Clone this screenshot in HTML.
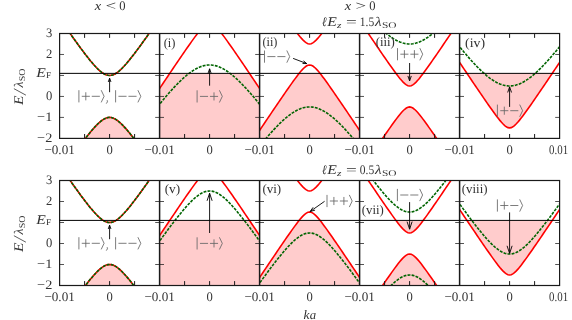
<!DOCTYPE html>
<html><head><meta charset="utf-8"><title>Band structure</title>
<style>html,body{margin:0;padding:0;background:#fff;overflow:hidden}svg{display:block}text{font-family:"Liberation Serif",serif;-webkit-font-smoothing:antialiased;text-rendering:geometricPrecision}</style>
</head><body>
<svg width="572" height="320" viewBox="0 0 572 320">
<rect width="572" height="320" fill="#fff"/>
<defs><clipPath id="c00"><rect x="59.60" y="33.50" width="100.00" height="104.90"/></clipPath>
<clipPath id="c01"><rect x="159.60" y="33.50" width="100.00" height="104.90"/></clipPath>
<clipPath id="c02"><rect x="259.60" y="33.50" width="100.00" height="104.90"/></clipPath>
<clipPath id="c03"><rect x="359.60" y="33.50" width="100.00" height="104.90"/></clipPath>
<clipPath id="c04"><rect x="459.60" y="33.50" width="100.00" height="104.90"/></clipPath>
<clipPath id="c10"><rect x="59.60" y="180.50" width="100.00" height="105.00"/></clipPath>
<clipPath id="c11"><rect x="159.60" y="180.50" width="100.00" height="105.00"/></clipPath>
<clipPath id="c12"><rect x="259.60" y="180.50" width="100.00" height="105.00"/></clipPath>
<clipPath id="c13"><rect x="359.60" y="180.50" width="100.00" height="105.00"/></clipPath>
<clipPath id="c14"><rect x="459.60" y="180.50" width="100.00" height="105.00"/></clipPath><filter id="idf" x="0" y="0" width="572" height="320" filterUnits="userSpaceOnUse" color-interpolation-filters="sRGB"><feOffset dx="0" dy="0"/></filter></defs>
<g clip-path="url(#c00)">
<path d="M59.60 174.52 L61.16 172.26 L62.73 170.01 L64.29 167.76 L65.85 165.51 L67.41 163.28 L68.97 161.05 L70.54 158.83 L72.10 156.63 L73.66 154.43 L75.22 152.24 L76.79 150.07 L78.35 147.92 L79.91 145.78 L81.47 143.66 L83.04 141.57 L84.60 139.50 L86.16 137.47 L87.72 135.47 L89.29 133.50 L90.85 131.59 L92.41 129.74 L93.97 127.95 L95.54 126.23 L97.10 124.61 L98.66 123.10 L100.22 121.72 L101.79 120.49 L103.35 119.43 L104.91 118.57 L106.47 117.94 L108.04 117.55 L109.60 117.42 L111.16 117.55 L112.72 117.94 L114.29 118.57 L115.85 119.43 L117.41 120.49 L118.97 121.72 L120.54 123.10 L122.10 124.61 L123.66 126.23 L125.22 127.95 L126.79 129.74 L128.35 131.59 L129.91 133.50 L131.47 135.47 L133.04 137.47 L134.60 139.50 L136.16 141.57 L137.72 143.66 L139.29 145.78 L140.85 147.92 L142.41 150.07 L143.97 152.24 L145.54 154.43 L147.10 156.63 L148.66 158.83 L150.22 161.05 L151.79 163.28 L153.35 165.51 L154.91 167.76 L156.47 170.01 L158.04 172.26 L159.60 174.52 L159.60 143.40 L59.60 143.40 Z" fill="#ffcccc"/>
<path d="M59.60 73.36 L61.16 73.36 L62.73 73.36 L64.29 73.36 L65.85 73.36 L67.41 73.36 L68.97 73.36 L70.54 73.36 L72.10 73.36 L73.66 73.36 L75.22 73.36 L76.79 73.36 L78.35 73.36 L79.91 73.36 L81.47 73.36 L83.04 73.36 L84.60 73.36 L86.16 73.36 L87.72 73.36 L89.29 73.36 L90.85 73.36 L92.41 73.36 L93.97 73.36 L95.54 73.36 L97.10 73.36 L98.66 73.36 L100.22 73.36 L101.79 73.36 L103.35 73.45 L104.91 74.31 L106.47 74.94 L108.04 75.33 L109.60 75.46 L111.16 75.33 L112.72 74.94 L114.29 74.31 L115.85 73.45 L117.41 73.36 L118.97 73.36 L120.54 73.36 L122.10 73.36 L123.66 73.36 L125.22 73.36 L126.79 73.36 L128.35 73.36 L129.91 73.36 L131.47 73.36 L133.04 73.36 L134.60 73.36 L136.16 73.36 L137.72 73.36 L139.29 73.36 L140.85 73.36 L142.41 73.36 L143.97 73.36 L145.54 73.36 L147.10 73.36 L148.66 73.36 L150.22 73.36 L151.79 73.36 L153.35 73.36 L154.91 73.36 L156.47 73.36 L158.04 73.36 L159.60 73.36 L159.60 73.36 L59.60 73.36 Z" fill="#ffcccc"/>
<path d="M57.60 15.45 L59.23 17.81 L60.85 20.16 L62.48 22.51 L64.10 24.85 L65.72 27.19 L67.35 29.51 L68.97 31.83 L70.60 34.14 L72.22 36.43 L73.85 38.71 L75.47 40.99 L77.10 43.24 L78.72 45.48 L80.35 47.69 L81.97 49.89 L83.60 52.06 L85.22 54.20 L86.85 56.30 L88.47 58.36 L90.10 60.38 L91.72 62.33 L93.35 64.23 L94.97 66.04 L96.60 67.76 L98.22 69.37 L99.85 70.84 L101.47 72.16 L103.10 73.29 L104.72 74.22 L106.35 74.90 L107.97 75.32 L109.60 75.46 L111.22 75.32 L112.85 74.90 L114.47 74.22 L116.10 73.29 L117.72 72.16 L119.35 70.84 L120.97 69.37 L122.60 67.76 L124.22 66.04 L125.85 64.23 L127.47 62.33 L129.10 60.38 L130.72 58.36 L132.35 56.30 L133.97 54.20 L135.60 52.06 L137.22 49.89 L138.85 47.69 L140.47 45.48 L142.10 43.24 L143.72 40.99 L145.35 38.71 L146.97 36.43 L148.60 34.14 L150.22 31.83 L151.85 29.51 L153.47 27.19 L155.10 24.85 L156.72 22.51 L158.35 20.16 L159.97 17.81 L161.60 15.45" fill="none" stroke="#ff0000" stroke-width="1.6"/>
<path d="M57.60 177.43 L59.23 175.07 L60.85 172.72 L62.48 170.37 L64.10 168.03 L65.72 165.69 L67.35 163.37 L68.97 161.05 L70.60 158.74 L72.22 156.45 L73.85 154.17 L75.47 151.89 L77.10 149.64 L78.72 147.40 L80.35 145.19 L81.97 142.99 L83.60 140.82 L85.22 138.68 L86.85 136.58 L88.47 134.52 L90.10 132.50 L91.72 130.55 L93.35 128.65 L94.97 126.84 L96.60 125.12 L98.22 123.51 L99.85 122.04 L101.47 120.72 L103.10 119.59 L104.72 118.66 L106.35 117.98 L107.97 117.56 L109.60 117.42 L111.22 117.56 L112.85 117.98 L114.47 118.66 L116.10 119.59 L117.72 120.72 L119.35 122.04 L120.97 123.51 L122.60 125.12 L124.22 126.84 L125.85 128.65 L127.47 130.55 L129.10 132.50 L130.72 134.52 L132.35 136.58 L133.97 138.68 L135.60 140.82 L137.22 142.99 L138.85 145.19 L140.47 147.40 L142.10 149.64 L143.72 151.89 L145.35 154.17 L146.97 156.45 L148.60 158.74 L150.22 161.05 L151.85 163.37 L153.47 165.69 L155.10 168.03 L156.72 170.37 L158.35 172.72 L159.97 175.07 L161.60 177.43" fill="none" stroke="#ff0000" stroke-width="1.6"/>
<path d="M57.60 15.45 L59.23 17.81 L60.85 20.16 L62.48 22.51 L64.10 24.85 L65.72 27.19 L67.35 29.51 L68.97 31.83 L70.60 34.14 L72.22 36.43 L73.85 38.71 L75.47 40.99 L77.10 43.24 L78.72 45.48 L80.35 47.69 L81.97 49.89 L83.60 52.06 L85.22 54.20 L86.85 56.30 L88.47 58.36 L90.10 60.38 L91.72 62.33 L93.35 64.23 L94.97 66.04 L96.60 67.76 L98.22 69.37 L99.85 70.84 L101.47 72.16 L103.10 73.29 L104.72 74.22 L106.35 74.90 L107.97 75.32 L109.60 75.46 L111.22 75.32 L112.85 74.90 L114.47 74.22 L116.10 73.29 L117.72 72.16 L119.35 70.84 L120.97 69.37 L122.60 67.76 L124.22 66.04 L125.85 64.23 L127.47 62.33 L129.10 60.38 L130.72 58.36 L132.35 56.30 L133.97 54.20 L135.60 52.06 L137.22 49.89 L138.85 47.69 L140.47 45.48 L142.10 43.24 L143.72 40.99 L145.35 38.71 L146.97 36.43 L148.60 34.14 L150.22 31.83 L151.85 29.51 L153.47 27.19 L155.10 24.85 L156.72 22.51 L158.35 20.16 L159.97 17.81 L161.60 15.45" fill="none" stroke="#006400" stroke-width="1.6" stroke-dasharray="2.9 1.2"/>
<path d="M57.60 177.43 L59.23 175.07 L60.85 172.72 L62.48 170.37 L64.10 168.03 L65.72 165.69 L67.35 163.37 L68.97 161.05 L70.60 158.74 L72.22 156.45 L73.85 154.17 L75.47 151.89 L77.10 149.64 L78.72 147.40 L80.35 145.19 L81.97 142.99 L83.60 140.82 L85.22 138.68 L86.85 136.58 L88.47 134.52 L90.10 132.50 L91.72 130.55 L93.35 128.65 L94.97 126.84 L96.60 125.12 L98.22 123.51 L99.85 122.04 L101.47 120.72 L103.10 119.59 L104.72 118.66 L106.35 117.98 L107.97 117.56 L109.60 117.42 L111.22 117.56 L112.85 117.98 L114.47 118.66 L116.10 119.59 L117.72 120.72 L119.35 122.04 L120.97 123.51 L122.60 125.12 L124.22 126.84 L125.85 128.65 L127.47 130.55 L129.10 132.50 L130.72 134.52 L132.35 136.58 L133.97 138.68 L135.60 140.82 L137.22 142.99 L138.85 145.19 L140.47 147.40 L142.10 149.64 L143.72 151.89 L145.35 154.17 L146.97 156.45 L148.60 158.74 L150.22 161.05 L151.85 163.37 L153.47 165.69 L155.10 168.03 L156.72 170.37 L158.35 172.72 L159.97 175.07 L161.60 177.43" fill="none" stroke="#006400" stroke-width="1.6" stroke-dasharray="2.9 1.2"/>
</g>
<g clip-path="url(#c01)">
<path d="M159.60 88.46 L161.16 86.13 L162.72 83.81 L164.29 81.48 L165.85 79.16 L167.41 76.84 L168.97 74.52 L170.54 73.36 L172.10 73.36 L173.66 73.36 L175.22 73.36 L176.79 73.36 L178.35 73.36 L179.91 73.36 L181.47 73.36 L183.04 73.36 L184.60 73.36 L186.16 73.36 L187.72 73.36 L189.29 73.36 L190.85 73.36 L192.41 73.36 L193.97 73.36 L195.54 73.36 L197.10 73.36 L198.66 73.36 L200.23 73.36 L201.79 73.36 L203.35 73.36 L204.91 73.36 L206.48 73.36 L208.04 73.36 L209.60 73.36 L211.16 73.36 L212.73 73.36 L214.29 73.36 L215.85 73.36 L217.41 73.36 L218.98 73.36 L220.54 73.36 L222.10 73.36 L223.66 73.36 L225.23 73.36 L226.79 73.36 L228.35 73.36 L229.91 73.36 L231.48 73.36 L233.04 73.36 L234.60 73.36 L236.16 73.36 L237.73 73.36 L239.29 73.36 L240.85 73.36 L242.41 73.36 L243.98 73.36 L245.54 73.36 L247.10 73.36 L248.66 73.36 L250.23 74.52 L251.79 76.84 L253.35 79.16 L254.91 81.48 L256.48 83.81 L258.04 86.13 L259.60 88.46 L259.60 143.40 L159.60 143.40 Z" fill="#ffcccc"/>
<path d="M159.60 73.36 L161.16 73.36 L162.72 73.36 L164.29 73.36 L165.85 73.36 L167.41 73.36 L168.97 73.36 L170.54 73.36 L172.10 73.36 L173.66 73.36 L175.22 73.36 L176.79 73.36 L178.35 73.36 L179.91 73.36 L181.47 73.36 L183.04 73.36 L184.60 73.36 L186.16 73.36 L187.72 73.36 L189.29 73.36 L190.85 73.36 L192.41 73.36 L193.97 73.36 L195.54 73.36 L197.10 73.36 L198.66 73.36 L200.23 73.36 L201.79 73.36 L203.35 73.36 L204.91 73.36 L206.48 73.36 L208.04 73.36 L209.60 73.36 L211.16 73.36 L212.73 73.36 L214.29 73.36 L215.85 73.36 L217.41 73.36 L218.98 73.36 L220.54 73.36 L222.10 73.36 L223.66 73.36 L225.23 73.36 L226.79 73.36 L228.35 73.36 L229.91 73.36 L231.48 73.36 L233.04 73.36 L234.60 73.36 L236.16 73.36 L237.73 73.36 L239.29 73.36 L240.85 73.36 L242.41 73.36 L243.98 73.36 L245.54 73.36 L247.10 73.36 L248.66 73.36 L250.23 73.36 L251.79 73.36 L253.35 73.36 L254.91 73.36 L256.48 73.36 L258.04 73.36 L259.60 73.36 L259.60 73.36 L159.60 73.36 Z" fill="#ffcccc"/>
<path d="M157.60 -66.40 L159.22 -63.98 L160.85 -61.56 L162.47 -59.14 L164.10 -56.72 L165.72 -54.31 L167.35 -51.90 L168.97 -49.48 L170.60 -47.08 L172.22 -44.67 L173.85 -42.27 L175.47 -39.87 L177.10 -37.48 L178.72 -35.09 L180.35 -32.71 L181.97 -30.34 L183.60 -27.97 L185.22 -25.62 L186.85 -23.27 L188.47 -20.94 L190.10 -18.63 L191.72 -16.34 L193.35 -14.08 L194.97 -11.85 L196.60 -9.67 L198.23 -7.55 L199.85 -5.51 L201.48 -3.59 L203.10 -1.82 L204.73 -0.28 L206.35 0.95 L207.98 1.75 L209.60 2.03 L211.23 1.75 L212.85 0.95 L214.48 -0.28 L216.10 -1.82 L217.73 -3.59 L219.35 -5.51 L220.98 -7.55 L222.60 -9.67 L224.23 -11.85 L225.85 -14.08 L227.48 -16.34 L229.10 -18.63 L230.73 -20.94 L232.35 -23.27 L233.98 -25.62 L235.60 -27.97 L237.23 -30.34 L238.85 -32.71 L240.48 -35.09 L242.10 -37.48 L243.73 -39.87 L245.35 -42.27 L246.98 -44.67 L248.60 -47.08 L250.23 -49.48 L251.85 -51.90 L253.48 -54.31 L255.10 -56.72 L256.73 -59.14 L258.35 -61.56 L259.98 -63.98 L261.60 -66.40" fill="none" stroke="#ff0000" stroke-width="1.6"/>
<path d="M157.60 91.44 L159.22 89.02 L160.85 86.60 L162.47 84.18 L164.10 81.76 L165.72 79.35 L167.35 76.94 L168.97 74.52 L170.60 72.12 L172.22 69.71 L173.85 67.31 L175.47 64.91 L177.10 62.52 L178.72 60.13 L180.35 57.75 L181.97 55.38 L183.60 53.01 L185.22 50.66 L186.85 48.31 L188.47 45.98 L190.10 43.67 L191.72 41.38 L193.35 39.12 L194.97 36.89 L196.60 34.71 L198.23 32.59 L199.85 30.55 L201.48 28.63 L203.10 26.86 L204.73 25.32 L206.35 24.09 L207.98 23.29 L209.60 23.01 L211.23 23.29 L212.85 24.09 L214.48 25.32 L216.10 26.86 L217.73 28.63 L219.35 30.55 L220.98 32.59 L222.60 34.71 L224.23 36.89 L225.85 39.12 L227.48 41.38 L229.10 43.67 L230.73 45.98 L232.35 48.31 L233.98 50.66 L235.60 53.01 L237.23 55.38 L238.85 57.75 L240.48 60.13 L242.10 62.52 L243.73 64.91 L245.35 67.31 L246.98 69.71 L248.60 72.12 L250.23 74.52 L251.85 76.94 L253.48 79.35 L255.10 81.76 L256.73 84.18 L258.35 86.60 L259.98 89.02 L261.60 91.44" fill="none" stroke="#ff0000" stroke-width="1.6"/>
<path d="M157.60 -81.66 L159.22 -79.64 L160.85 -77.64 L162.47 -75.66 L164.10 -73.71 L165.72 -71.78 L167.35 -69.88 L168.97 -68.01 L170.60 -66.17 L172.22 -64.37 L173.85 -62.60 L175.47 -60.87 L177.10 -59.18 L178.72 -57.54 L180.35 -55.94 L181.97 -54.40 L183.60 -52.91 L185.22 -51.48 L186.85 -50.11 L188.47 -48.81 L190.10 -47.58 L191.72 -46.42 L193.35 -45.35 L194.97 -44.36 L196.60 -43.46 L198.23 -42.65 L199.85 -41.94 L201.48 -41.34 L203.10 -40.83 L204.73 -40.44 L206.35 -40.16 L207.98 -39.99 L209.60 -39.93 L211.23 -39.99 L212.85 -40.16 L214.48 -40.44 L216.10 -40.83 L217.73 -41.34 L219.35 -41.94 L220.98 -42.65 L222.60 -43.46 L224.23 -44.36 L225.85 -45.35 L227.48 -46.42 L229.10 -47.58 L230.73 -48.81 L232.35 -50.11 L233.98 -51.48 L235.60 -52.91 L237.23 -54.40 L238.85 -55.94 L240.48 -57.54 L242.10 -59.18 L243.73 -60.87 L245.35 -62.60 L246.98 -64.37 L248.60 -66.17 L250.23 -68.01 L251.85 -69.88 L253.48 -71.78 L255.10 -73.71 L256.73 -75.66 L258.35 -77.64 L259.98 -79.64 L261.60 -81.66" fill="none" stroke="#006400" stroke-width="1.6" stroke-dasharray="2.9 1.2"/>
<path d="M157.60 106.70 L159.22 104.68 L160.85 102.68 L162.47 100.70 L164.10 98.75 L165.72 96.82 L167.35 94.92 L168.97 93.05 L170.60 91.21 L172.22 89.41 L173.85 87.64 L175.47 85.91 L177.10 84.22 L178.72 82.58 L180.35 80.98 L181.97 79.44 L183.60 77.95 L185.22 76.52 L186.85 75.15 L188.47 73.85 L190.10 72.62 L191.72 71.46 L193.35 70.39 L194.97 69.40 L196.60 68.50 L198.23 67.69 L199.85 66.98 L201.48 66.38 L203.10 65.87 L204.73 65.48 L206.35 65.20 L207.98 65.03 L209.60 64.97 L211.23 65.03 L212.85 65.20 L214.48 65.48 L216.10 65.87 L217.73 66.38 L219.35 66.98 L220.98 67.69 L222.60 68.50 L224.23 69.40 L225.85 70.39 L227.48 71.46 L229.10 72.62 L230.73 73.85 L232.35 75.15 L233.98 76.52 L235.60 77.95 L237.23 79.44 L238.85 80.98 L240.48 82.58 L242.10 84.22 L243.73 85.91 L245.35 87.64 L246.98 89.41 L248.60 91.21 L250.23 93.05 L251.85 94.92 L253.48 96.82 L255.10 98.75 L256.73 100.70 L258.35 102.68 L259.98 104.68 L261.60 106.70" fill="none" stroke="#006400" stroke-width="1.6" stroke-dasharray="2.9 1.2"/>
</g>
<g clip-path="url(#c02)">
<path d="M259.60 130.42 L261.16 128.09 L262.73 125.77 L264.29 123.44 L265.85 121.12 L267.41 118.80 L268.98 116.48 L270.54 114.17 L272.10 111.86 L273.66 109.55 L275.23 107.24 L276.79 104.94 L278.35 102.64 L279.91 100.35 L281.48 98.07 L283.04 95.79 L284.60 93.52 L286.16 91.26 L287.73 89.02 L289.29 86.79 L290.85 84.57 L292.41 82.38 L293.98 80.22 L295.54 78.09 L297.10 76.01 L298.66 73.99 L300.23 73.36 L301.79 73.36 L303.35 73.36 L304.91 73.36 L306.48 73.36 L308.04 73.36 L309.60 73.36 L311.16 73.36 L312.73 73.36 L314.29 73.36 L315.85 73.36 L317.41 73.36 L318.98 73.36 L320.54 73.99 L322.10 76.01 L323.66 78.09 L325.23 80.22 L326.79 82.38 L328.35 84.57 L329.91 86.79 L331.48 89.02 L333.04 91.26 L334.60 93.52 L336.16 95.79 L337.73 98.07 L339.29 100.35 L340.85 102.64 L342.41 104.94 L343.98 107.24 L345.54 109.55 L347.10 111.86 L348.66 114.17 L350.23 116.48 L351.79 118.80 L353.35 121.12 L354.91 123.44 L356.48 125.77 L358.04 128.09 L359.60 130.42 L359.60 143.40 L259.60 143.40 Z" fill="#ffcccc"/>
<path d="M259.60 73.36 L261.16 73.36 L262.73 73.36 L264.29 73.36 L265.85 73.36 L267.41 73.36 L268.98 73.36 L270.54 73.36 L272.10 73.36 L273.66 73.36 L275.23 73.36 L276.79 73.36 L278.35 73.36 L279.91 73.36 L281.48 73.36 L283.04 73.36 L284.60 73.36 L286.16 73.36 L287.73 73.36 L289.29 73.36 L290.85 73.36 L292.41 73.36 L293.98 73.36 L295.54 73.36 L297.10 73.36 L298.66 73.36 L300.23 73.36 L301.79 73.36 L303.35 73.36 L304.91 73.36 L306.48 73.36 L308.04 73.36 L309.60 73.36 L311.16 73.36 L312.73 73.36 L314.29 73.36 L315.85 73.36 L317.41 73.36 L318.98 73.36 L320.54 73.36 L322.10 73.36 L323.66 73.36 L325.23 73.36 L326.79 73.36 L328.35 73.36 L329.91 73.36 L331.48 73.36 L333.04 73.36 L334.60 73.36 L336.16 73.36 L337.73 73.36 L339.29 73.36 L340.85 73.36 L342.41 73.36 L343.98 73.36 L345.54 73.36 L347.10 73.36 L348.66 73.36 L350.23 73.36 L351.79 73.36 L353.35 73.36 L354.91 73.36 L356.48 73.36 L358.04 73.36 L359.60 73.36 L359.60 73.36 L259.60 73.36 Z" fill="#ffcccc"/>
<path d="M257.60 -24.44 L259.23 -22.02 L260.85 -19.60 L262.48 -17.18 L264.10 -14.76 L265.73 -12.35 L267.35 -9.94 L268.98 -7.52 L270.60 -5.12 L272.23 -2.71 L273.85 -0.31 L275.48 2.09 L277.10 4.48 L278.73 6.87 L280.35 9.25 L281.98 11.62 L283.60 13.99 L285.23 16.34 L286.85 18.69 L288.48 21.02 L290.10 23.33 L291.73 25.62 L293.35 27.88 L294.98 30.11 L296.60 32.29 L298.23 34.41 L299.85 36.45 L301.48 38.37 L303.10 40.14 L304.73 41.68 L306.35 42.91 L307.98 43.71 L309.60 43.99 L311.23 43.71 L312.85 42.91 L314.48 41.68 L316.10 40.14 L317.73 38.37 L319.35 36.45 L320.98 34.41 L322.60 32.29 L324.23 30.11 L325.85 27.88 L327.48 25.62 L329.10 23.33 L330.73 21.02 L332.35 18.69 L333.98 16.34 L335.60 13.99 L337.23 11.62 L338.85 9.25 L340.48 6.87 L342.10 4.48 L343.73 2.09 L345.35 -0.31 L346.98 -2.71 L348.60 -5.12 L350.23 -7.52 L351.85 -9.94 L353.48 -12.35 L355.10 -14.76 L356.73 -17.18 L358.35 -19.60 L359.98 -22.02 L361.60 -24.44" fill="none" stroke="#ff0000" stroke-width="1.6"/>
<path d="M257.60 133.40 L259.23 130.98 L260.85 128.56 L262.48 126.14 L264.10 123.72 L265.73 121.31 L267.35 118.90 L268.98 116.48 L270.60 114.08 L272.23 111.67 L273.85 109.27 L275.48 106.87 L277.10 104.48 L278.73 102.09 L280.35 99.71 L281.98 97.34 L283.60 94.97 L285.23 92.62 L286.85 90.27 L288.48 87.94 L290.10 85.63 L291.73 83.34 L293.35 81.08 L294.98 78.85 L296.60 76.67 L298.23 74.55 L299.85 72.51 L301.48 70.59 L303.10 68.82 L304.73 67.28 L306.35 66.05 L307.98 65.25 L309.60 64.97 L311.23 65.25 L312.85 66.05 L314.48 67.28 L316.10 68.82 L317.73 70.59 L319.35 72.51 L320.98 74.55 L322.60 76.67 L324.23 78.85 L325.85 81.08 L327.48 83.34 L329.10 85.63 L330.73 87.94 L332.35 90.27 L333.98 92.62 L335.60 94.97 L337.23 97.34 L338.85 99.71 L340.48 102.09 L342.10 104.48 L343.73 106.87 L345.35 109.27 L346.98 111.67 L348.60 114.08 L350.23 116.48 L351.85 118.90 L353.48 121.31 L355.10 123.72 L356.73 126.14 L358.35 128.56 L359.98 130.98 L361.60 133.40" fill="none" stroke="#ff0000" stroke-width="1.6"/>
<path d="M257.60 -39.70 L259.23 -37.68 L260.85 -35.68 L262.48 -33.70 L264.10 -31.75 L265.73 -29.82 L267.35 -27.92 L268.98 -26.05 L270.60 -24.21 L272.23 -22.41 L273.85 -20.64 L275.48 -18.91 L277.10 -17.22 L278.73 -15.58 L280.35 -13.98 L281.98 -12.44 L283.60 -10.95 L285.23 -9.52 L286.85 -8.15 L288.48 -6.85 L290.10 -5.62 L291.73 -4.46 L293.35 -3.39 L294.98 -2.40 L296.60 -1.50 L298.23 -0.69 L299.85 0.02 L301.48 0.62 L303.10 1.13 L304.73 1.52 L306.35 1.80 L307.98 1.97 L309.60 2.03 L311.23 1.97 L312.85 1.80 L314.48 1.52 L316.10 1.13 L317.73 0.62 L319.35 0.02 L320.98 -0.69 L322.60 -1.50 L324.23 -2.40 L325.85 -3.39 L327.48 -4.46 L329.10 -5.62 L330.73 -6.85 L332.35 -8.15 L333.98 -9.52 L335.60 -10.95 L337.23 -12.44 L338.85 -13.98 L340.48 -15.58 L342.10 -17.22 L343.73 -18.91 L345.35 -20.64 L346.98 -22.41 L348.60 -24.21 L350.23 -26.05 L351.85 -27.92 L353.48 -29.82 L355.10 -31.75 L356.73 -33.70 L358.35 -35.68 L359.98 -37.68 L361.60 -39.70" fill="none" stroke="#006400" stroke-width="1.6" stroke-dasharray="2.9 1.2"/>
<path d="M257.60 148.66 L259.23 146.64 L260.85 144.64 L262.48 142.66 L264.10 140.71 L265.73 138.78 L267.35 136.88 L268.98 135.01 L270.60 133.17 L272.23 131.37 L273.85 129.60 L275.48 127.87 L277.10 126.18 L278.73 124.54 L280.35 122.94 L281.98 121.40 L283.60 119.91 L285.23 118.48 L286.85 117.11 L288.48 115.81 L290.10 114.58 L291.73 113.42 L293.35 112.35 L294.98 111.36 L296.60 110.46 L298.23 109.65 L299.85 108.94 L301.48 108.34 L303.10 107.83 L304.73 107.44 L306.35 107.16 L307.98 106.99 L309.60 106.93 L311.23 106.99 L312.85 107.16 L314.48 107.44 L316.10 107.83 L317.73 108.34 L319.35 108.94 L320.98 109.65 L322.60 110.46 L324.23 111.36 L325.85 112.35 L327.48 113.42 L329.10 114.58 L330.73 115.81 L332.35 117.11 L333.98 118.48 L335.60 119.91 L337.23 121.40 L338.85 122.94 L340.48 124.54 L342.10 126.18 L343.73 127.87 L345.35 129.60 L346.98 131.37 L348.60 133.17 L350.23 135.01 L351.85 136.88 L353.48 138.78 L355.10 140.71 L356.73 142.66 L358.35 144.64 L359.98 146.64 L361.60 148.66" fill="none" stroke="#006400" stroke-width="1.6" stroke-dasharray="2.9 1.2"/>
</g>
<g clip-path="url(#c03)">
<path d="M359.60 172.38 L361.16 170.05 L362.73 167.73 L364.29 165.40 L365.85 163.08 L367.41 160.76 L368.98 158.44 L370.54 156.13 L372.10 153.82 L373.66 151.51 L375.23 149.20 L376.79 146.90 L378.35 144.60 L379.91 142.31 L381.48 140.03 L383.04 137.75 L384.60 135.48 L386.16 133.22 L387.73 130.98 L389.29 128.75 L390.85 126.53 L392.41 124.34 L393.98 122.18 L395.54 120.05 L397.10 117.97 L398.66 115.95 L400.23 114.02 L401.79 112.19 L403.35 110.53 L404.91 109.08 L406.48 107.94 L408.04 107.19 L409.60 106.93 L411.16 107.19 L412.73 107.94 L414.29 109.08 L415.85 110.53 L417.41 112.19 L418.98 114.02 L420.54 115.95 L422.10 117.97 L423.66 120.05 L425.23 122.18 L426.79 124.34 L428.35 126.53 L429.91 128.75 L431.48 130.98 L433.04 133.22 L434.60 135.48 L436.16 137.75 L437.73 140.03 L439.29 142.31 L440.85 144.60 L442.41 146.90 L443.98 149.20 L445.54 151.51 L447.10 153.82 L448.66 156.13 L450.23 158.44 L451.79 160.76 L453.35 163.08 L454.91 165.40 L456.48 167.73 L458.04 170.05 L459.60 172.38 L459.60 143.40 L359.60 143.40 Z" fill="#ffcccc"/>
<path d="M359.60 73.36 L361.16 73.36 L362.73 73.36 L364.29 73.36 L365.85 73.36 L367.41 73.36 L368.98 73.36 L370.54 73.36 L372.10 73.36 L373.66 73.36 L375.23 73.36 L376.79 73.36 L378.35 73.36 L379.91 73.36 L381.48 73.36 L383.04 73.36 L384.60 73.36 L386.16 73.36 L387.73 73.36 L389.29 73.36 L390.85 73.36 L392.41 73.36 L393.98 73.36 L395.54 73.36 L397.10 74.91 L398.66 76.93 L400.23 78.86 L401.79 80.69 L403.35 82.35 L404.91 83.80 L406.48 84.94 L408.04 85.69 L409.60 85.95 L411.16 85.69 L412.73 84.94 L414.29 83.80 L415.85 82.35 L417.41 80.69 L418.98 78.86 L420.54 76.93 L422.10 74.91 L423.66 73.36 L425.23 73.36 L426.79 73.36 L428.35 73.36 L429.91 73.36 L431.48 73.36 L433.04 73.36 L434.60 73.36 L436.16 73.36 L437.73 73.36 L439.29 73.36 L440.85 73.36 L442.41 73.36 L443.98 73.36 L445.54 73.36 L447.10 73.36 L448.66 73.36 L450.23 73.36 L451.79 73.36 L453.35 73.36 L454.91 73.36 L456.48 73.36 L458.04 73.36 L459.60 73.36 L459.60 73.36 L359.60 73.36 Z" fill="#ffcccc"/>
<path d="M357.60 17.52 L359.23 19.94 L360.85 22.36 L362.48 24.78 L364.10 27.20 L365.73 29.61 L367.35 32.02 L368.98 34.44 L370.60 36.84 L372.23 39.25 L373.85 41.65 L375.48 44.05 L377.10 46.44 L378.73 48.83 L380.35 51.21 L381.98 53.58 L383.60 55.95 L385.23 58.30 L386.85 60.65 L388.48 62.98 L390.10 65.29 L391.73 67.58 L393.35 69.84 L394.98 72.07 L396.60 74.25 L398.23 76.37 L399.85 78.41 L401.48 80.33 L403.10 82.10 L404.73 83.64 L406.35 84.87 L407.98 85.67 L409.60 85.95 L411.23 85.67 L412.85 84.87 L414.48 83.64 L416.10 82.10 L417.73 80.33 L419.35 78.41 L420.98 76.37 L422.60 74.25 L424.23 72.07 L425.85 69.84 L427.48 67.58 L429.10 65.29 L430.73 62.98 L432.35 60.65 L433.98 58.30 L435.60 55.95 L437.23 53.58 L438.85 51.21 L440.48 48.83 L442.10 46.44 L443.73 44.05 L445.35 41.65 L446.98 39.25 L448.60 36.84 L450.23 34.44 L451.85 32.02 L453.48 29.61 L455.10 27.20 L456.73 24.78 L458.35 22.36 L459.98 19.94 L461.60 17.52" fill="none" stroke="#ff0000" stroke-width="1.6"/>
<path d="M357.60 175.36 L359.23 172.94 L360.85 170.52 L362.48 168.10 L364.10 165.68 L365.73 163.27 L367.35 160.86 L368.98 158.44 L370.60 156.04 L372.23 153.63 L373.85 151.23 L375.48 148.83 L377.10 146.44 L378.73 144.05 L380.35 141.67 L381.98 139.30 L383.60 136.93 L385.23 134.58 L386.85 132.23 L388.48 129.90 L390.10 127.59 L391.73 125.30 L393.35 123.04 L394.98 120.81 L396.60 118.63 L398.23 116.51 L399.85 114.47 L401.48 112.55 L403.10 110.78 L404.73 109.24 L406.35 108.01 L407.98 107.21 L409.60 106.93 L411.23 107.21 L412.85 108.01 L414.48 109.24 L416.10 110.78 L417.73 112.55 L419.35 114.47 L420.98 116.51 L422.60 118.63 L424.23 120.81 L425.85 123.04 L427.48 125.30 L429.10 127.59 L430.73 129.90 L432.35 132.23 L433.98 134.58 L435.60 136.93 L437.23 139.30 L438.85 141.67 L440.48 144.05 L442.10 146.44 L443.73 148.83 L445.35 151.23 L446.98 153.63 L448.60 156.04 L450.23 158.44 L451.85 160.86 L453.48 163.27 L455.10 165.68 L456.73 168.10 L458.35 170.52 L459.98 172.94 L461.60 175.36" fill="none" stroke="#ff0000" stroke-width="1.6"/>
<path d="M357.60 2.26 L359.23 4.28 L360.85 6.28 L362.48 8.26 L364.10 10.21 L365.73 12.14 L367.35 14.04 L368.98 15.91 L370.60 17.75 L372.23 19.55 L373.85 21.32 L375.48 23.05 L377.10 24.74 L378.73 26.38 L380.35 27.98 L381.98 29.52 L383.60 31.01 L385.23 32.44 L386.85 33.81 L388.48 35.11 L390.10 36.34 L391.73 37.50 L393.35 38.57 L394.98 39.56 L396.60 40.46 L398.23 41.27 L399.85 41.98 L401.48 42.58 L403.10 43.09 L404.73 43.48 L406.35 43.76 L407.98 43.93 L409.60 43.99 L411.23 43.93 L412.85 43.76 L414.48 43.48 L416.10 43.09 L417.73 42.58 L419.35 41.98 L420.98 41.27 L422.60 40.46 L424.23 39.56 L425.85 38.57 L427.48 37.50 L429.10 36.34 L430.73 35.11 L432.35 33.81 L433.98 32.44 L435.60 31.01 L437.23 29.52 L438.85 27.98 L440.48 26.38 L442.10 24.74 L443.73 23.05 L445.35 21.32 L446.98 19.55 L448.60 17.75 L450.23 15.91 L451.85 14.04 L453.48 12.14 L455.10 10.21 L456.73 8.26 L458.35 6.28 L459.98 4.28 L461.60 2.26" fill="none" stroke="#006400" stroke-width="1.6" stroke-dasharray="2.9 1.2"/>
<path d="M357.60 190.62 L359.23 188.60 L360.85 186.60 L362.48 184.62 L364.10 182.67 L365.73 180.74 L367.35 178.84 L368.98 176.97 L370.60 175.13 L372.23 173.33 L373.85 171.56 L375.48 169.83 L377.10 168.14 L378.73 166.50 L380.35 164.90 L381.98 163.36 L383.60 161.87 L385.23 160.44 L386.85 159.07 L388.48 157.77 L390.10 156.54 L391.73 155.38 L393.35 154.31 L394.98 153.32 L396.60 152.42 L398.23 151.61 L399.85 150.90 L401.48 150.30 L403.10 149.79 L404.73 149.40 L406.35 149.12 L407.98 148.95 L409.60 148.89 L411.23 148.95 L412.85 149.12 L414.48 149.40 L416.10 149.79 L417.73 150.30 L419.35 150.90 L420.98 151.61 L422.60 152.42 L424.23 153.32 L425.85 154.31 L427.48 155.38 L429.10 156.54 L430.73 157.77 L432.35 159.07 L433.98 160.44 L435.60 161.87 L437.23 163.36 L438.85 164.90 L440.48 166.50 L442.10 168.14 L443.73 169.83 L445.35 171.56 L446.98 173.33 L448.60 175.13 L450.23 176.97 L451.85 178.84 L453.48 180.74 L455.10 182.67 L456.73 184.62 L458.35 186.60 L459.98 188.60 L461.60 190.62" fill="none" stroke="#006400" stroke-width="1.6" stroke-dasharray="2.9 1.2"/>
</g>
<g clip-path="url(#c04)">
<path d="M459.60 214.34 L461.16 212.01 L462.73 209.69 L464.29 207.36 L465.85 205.04 L467.41 202.72 L468.98 200.40 L470.54 198.09 L472.10 195.78 L473.66 193.47 L475.23 191.16 L476.79 188.86 L478.35 186.56 L479.91 184.27 L481.48 181.99 L483.04 179.71 L484.60 177.44 L486.16 175.18 L487.73 172.94 L489.29 170.71 L490.85 168.49 L492.41 166.30 L493.98 164.14 L495.54 162.01 L497.10 159.93 L498.66 157.91 L500.23 155.98 L501.79 154.15 L503.35 152.49 L504.91 151.04 L506.48 149.90 L508.04 149.15 L509.60 148.89 L511.16 149.15 L512.73 149.90 L514.29 151.04 L515.85 152.49 L517.41 154.15 L518.98 155.98 L520.54 157.91 L522.10 159.93 L523.66 162.01 L525.23 164.14 L526.79 166.30 L528.35 168.49 L529.91 170.71 L531.48 172.94 L533.04 175.18 L534.60 177.44 L536.16 179.71 L537.73 181.99 L539.29 184.27 L540.85 186.56 L542.41 188.86 L543.98 191.16 L545.54 193.47 L547.10 195.78 L548.66 198.09 L550.23 200.40 L551.79 202.72 L553.35 205.04 L554.91 207.36 L556.48 209.69 L558.04 212.01 L559.60 214.34 L559.60 143.40 L459.60 143.40 Z" fill="#ffcccc"/>
<path d="M459.60 73.36 L461.16 73.36 L462.73 73.36 L464.29 73.36 L465.85 73.36 L467.41 74.08 L468.98 76.40 L470.54 78.71 L472.10 81.02 L473.66 83.33 L475.23 85.64 L476.79 87.94 L478.35 90.24 L479.91 92.53 L481.48 94.81 L483.04 97.09 L484.60 99.36 L486.16 101.62 L487.73 103.86 L489.29 106.09 L490.85 108.31 L492.41 110.50 L493.98 112.66 L495.54 114.79 L497.10 116.87 L498.66 118.89 L500.23 120.82 L501.79 122.65 L503.35 124.31 L504.91 125.76 L506.48 126.90 L508.04 127.65 L509.60 127.91 L511.16 127.65 L512.73 126.90 L514.29 125.76 L515.85 124.31 L517.41 122.65 L518.98 120.82 L520.54 118.89 L522.10 116.87 L523.66 114.79 L525.23 112.66 L526.79 110.50 L528.35 108.31 L529.91 106.09 L531.48 103.86 L533.04 101.62 L534.60 99.36 L536.16 97.09 L537.73 94.81 L539.29 92.53 L540.85 90.24 L542.41 87.94 L543.98 85.64 L545.54 83.33 L547.10 81.02 L548.66 78.71 L550.23 76.40 L551.79 74.08 L553.35 73.36 L554.91 73.36 L556.48 73.36 L558.04 73.36 L559.60 73.36 L559.60 73.36 L459.60 73.36 Z" fill="#ffcccc"/>
<path d="M457.60 59.48 L459.23 61.90 L460.85 64.32 L462.48 66.74 L464.10 69.16 L465.73 71.57 L467.35 73.98 L468.98 76.40 L470.60 78.80 L472.23 81.21 L473.85 83.61 L475.48 86.01 L477.10 88.40 L478.73 90.79 L480.35 93.17 L481.98 95.54 L483.60 97.91 L485.23 100.26 L486.85 102.61 L488.48 104.94 L490.10 107.25 L491.73 109.54 L493.35 111.80 L494.98 114.03 L496.60 116.21 L498.23 118.33 L499.85 120.37 L501.48 122.29 L503.10 124.06 L504.73 125.60 L506.35 126.83 L507.98 127.63 L509.60 127.91 L511.23 127.63 L512.85 126.83 L514.48 125.60 L516.10 124.06 L517.73 122.29 L519.35 120.37 L520.98 118.33 L522.60 116.21 L524.23 114.03 L525.85 111.80 L527.48 109.54 L529.10 107.25 L530.73 104.94 L532.35 102.61 L533.98 100.26 L535.60 97.91 L537.23 95.54 L538.85 93.17 L540.48 90.79 L542.10 88.40 L543.73 86.01 L545.35 83.61 L546.98 81.21 L548.60 78.80 L550.23 76.40 L551.85 73.98 L553.48 71.57 L555.10 69.16 L556.73 66.74 L558.35 64.32 L559.98 61.90 L561.60 59.48" fill="none" stroke="#ff0000" stroke-width="1.6"/>
<path d="M457.60 217.32 L459.23 214.90 L460.85 212.48 L462.48 210.06 L464.10 207.64 L465.73 205.23 L467.35 202.82 L468.98 200.40 L470.60 198.00 L472.23 195.59 L473.85 193.19 L475.48 190.79 L477.10 188.40 L478.73 186.01 L480.35 183.63 L481.98 181.26 L483.60 178.89 L485.23 176.54 L486.85 174.19 L488.48 171.86 L490.10 169.55 L491.73 167.26 L493.35 165.00 L494.98 162.77 L496.60 160.59 L498.23 158.47 L499.85 156.43 L501.48 154.51 L503.10 152.74 L504.73 151.20 L506.35 149.97 L507.98 149.17 L509.60 148.89 L511.23 149.17 L512.85 149.97 L514.48 151.20 L516.10 152.74 L517.73 154.51 L519.35 156.43 L520.98 158.47 L522.60 160.59 L524.23 162.77 L525.85 165.00 L527.48 167.26 L529.10 169.55 L530.73 171.86 L532.35 174.19 L533.98 176.54 L535.60 178.89 L537.23 181.26 L538.85 183.63 L540.48 186.01 L542.10 188.40 L543.73 190.79 L545.35 193.19 L546.98 195.59 L548.60 198.00 L550.23 200.40 L551.85 202.82 L553.48 205.23 L555.10 207.64 L556.73 210.06 L558.35 212.48 L559.98 214.90 L561.60 217.32" fill="none" stroke="#ff0000" stroke-width="1.6"/>
<path d="M457.60 44.22 L459.23 46.24 L460.85 48.24 L462.48 50.22 L464.10 52.17 L465.73 54.10 L467.35 56.00 L468.98 57.87 L470.60 59.71 L472.23 61.51 L473.85 63.28 L475.48 65.01 L477.10 66.70 L478.73 68.34 L480.35 69.94 L481.98 71.48 L483.60 72.97 L485.23 74.40 L486.85 75.77 L488.48 77.07 L490.10 78.30 L491.73 79.46 L493.35 80.53 L494.98 81.52 L496.60 82.42 L498.23 83.23 L499.85 83.94 L501.48 84.54 L503.10 85.05 L504.73 85.44 L506.35 85.72 L507.98 85.89 L509.60 85.95 L511.23 85.89 L512.85 85.72 L514.48 85.44 L516.10 85.05 L517.73 84.54 L519.35 83.94 L520.98 83.23 L522.60 82.42 L524.23 81.52 L525.85 80.53 L527.48 79.46 L529.10 78.30 L530.73 77.07 L532.35 75.77 L533.98 74.40 L535.60 72.97 L537.23 71.48 L538.85 69.94 L540.48 68.34 L542.10 66.70 L543.73 65.01 L545.35 63.28 L546.98 61.51 L548.60 59.71 L550.23 57.87 L551.85 56.00 L553.48 54.10 L555.10 52.17 L556.73 50.22 L558.35 48.24 L559.98 46.24 L561.60 44.22" fill="none" stroke="#006400" stroke-width="1.6" stroke-dasharray="2.9 1.2"/>
<path d="M457.60 232.58 L459.23 230.56 L460.85 228.56 L462.48 226.58 L464.10 224.63 L465.73 222.70 L467.35 220.80 L468.98 218.93 L470.60 217.09 L472.23 215.29 L473.85 213.52 L475.48 211.79 L477.10 210.10 L478.73 208.46 L480.35 206.86 L481.98 205.32 L483.60 203.83 L485.23 202.40 L486.85 201.03 L488.48 199.73 L490.10 198.50 L491.73 197.34 L493.35 196.27 L494.98 195.28 L496.60 194.38 L498.23 193.57 L499.85 192.86 L501.48 192.26 L503.10 191.75 L504.73 191.36 L506.35 191.08 L507.98 190.91 L509.60 190.85 L511.23 190.91 L512.85 191.08 L514.48 191.36 L516.10 191.75 L517.73 192.26 L519.35 192.86 L520.98 193.57 L522.60 194.38 L524.23 195.28 L525.85 196.27 L527.48 197.34 L529.10 198.50 L530.73 199.73 L532.35 201.03 L533.98 202.40 L535.60 203.83 L537.23 205.32 L538.85 206.86 L540.48 208.46 L542.10 210.10 L543.73 211.79 L545.35 213.52 L546.98 215.29 L548.60 217.09 L550.23 218.93 L551.85 220.80 L553.48 222.70 L555.10 224.63 L556.73 226.58 L558.35 228.56 L559.98 230.56 L561.60 232.58" fill="none" stroke="#006400" stroke-width="1.6" stroke-dasharray="2.9 1.2"/>
</g>
<rect x="59.60" y="33.50" width="500.00" height="104.90" fill="none" stroke="#1a1a1a" stroke-width="1.2"/>
<line x1="159.60" y1="33.50" x2="159.60" y2="138.40" stroke="#1a1a1a" stroke-width="1.5"/>
<line x1="259.60" y1="33.50" x2="259.60" y2="138.40" stroke="#1a1a1a" stroke-width="1.5"/>
<line x1="359.60" y1="33.50" x2="359.60" y2="138.40" stroke="#1a1a1a" stroke-width="1.5"/>
<line x1="459.60" y1="33.50" x2="459.60" y2="138.40" stroke="#1a1a1a" stroke-width="1.5"/>
<line x1="59.60" y1="73.36" x2="559.60" y2="73.36" stroke="#000" stroke-width="1.0"/>
<path d="M59.60 117.42h4.40M159.60 117.42h-4.40M59.60 96.44h4.40M159.60 96.44h-4.40M59.60 75.46h4.40M159.60 75.46h-4.40M59.60 54.48h4.40M159.60 54.48h-4.40M159.60 117.42h4.40M259.60 117.42h-4.40M159.60 96.44h4.40M259.60 96.44h-4.40M159.60 75.46h4.40M259.60 75.46h-4.40M159.60 54.48h4.40M259.60 54.48h-4.40M259.60 117.42h4.40M359.60 117.42h-4.40M259.60 96.44h4.40M359.60 96.44h-4.40M259.60 75.46h4.40M359.60 75.46h-4.40M259.60 54.48h4.40M359.60 54.48h-4.40M359.60 117.42h4.40M459.60 117.42h-4.40M359.60 96.44h4.40M459.60 96.44h-4.40M359.60 75.46h4.40M459.60 75.46h-4.40M359.60 54.48h4.40M459.60 54.48h-4.40M459.60 117.42h4.40M559.60 117.42h-4.40M459.60 96.44h4.40M559.60 96.44h-4.40M459.60 75.46h4.40M559.60 75.46h-4.40M459.60 54.48h4.40M559.60 54.48h-4.40" stroke="#1a1a1a" stroke-width="0.75" fill="none"/>
<path d="M84.60 138.40v-4.40M84.60 33.50v4.40M109.60 138.40v-4.40M109.60 33.50v4.40M134.60 138.40v-4.40M134.60 33.50v4.40M184.60 138.40v-4.40M184.60 33.50v4.40M209.60 138.40v-4.40M209.60 33.50v4.40M234.60 138.40v-4.40M234.60 33.50v4.40M284.60 138.40v-4.40M284.60 33.50v4.40M309.60 138.40v-4.40M309.60 33.50v4.40M334.60 138.40v-4.40M334.60 33.50v4.40M384.60 138.40v-4.40M384.60 33.50v4.40M409.60 138.40v-4.40M409.60 33.50v4.40M434.60 138.40v-4.40M434.60 33.50v4.40M484.60 138.40v-4.40M484.60 33.50v4.40M509.60 138.40v-4.40M509.60 33.50v4.40M534.60 138.40v-4.40M534.60 33.50v4.40" stroke="#1a1a1a" stroke-width="1.0" fill="none"/>
<g clip-path="url(#c10)">
<path d="M59.60 321.66 L61.16 319.40 L62.73 317.14 L64.29 314.89 L65.85 312.64 L67.41 310.40 L68.97 308.17 L70.54 305.95 L72.10 303.74 L73.66 301.54 L75.22 299.36 L76.79 297.18 L78.35 295.03 L79.91 292.89 L81.47 290.77 L83.04 288.67 L84.60 286.60 L86.16 284.57 L87.72 282.56 L89.29 280.60 L90.85 278.69 L92.41 276.83 L93.97 275.04 L95.54 273.32 L97.10 271.70 L98.66 270.19 L100.22 268.80 L101.79 267.57 L103.35 266.51 L104.91 265.65 L106.47 265.02 L108.04 264.63 L109.60 264.50 L111.16 264.63 L112.72 265.02 L114.29 265.65 L115.85 266.51 L117.41 267.57 L118.97 268.80 L120.54 270.19 L122.10 271.70 L123.66 273.32 L125.22 275.04 L126.79 276.83 L128.35 278.69 L129.91 280.60 L131.47 282.56 L133.04 284.57 L134.60 286.60 L136.16 288.67 L137.72 290.77 L139.29 292.89 L140.85 295.03 L142.41 297.18 L143.97 299.36 L145.54 301.54 L147.10 303.74 L148.66 305.95 L150.22 308.17 L151.79 310.40 L153.35 312.64 L154.91 314.89 L156.47 317.14 L158.04 319.40 L159.60 321.66 L159.60 290.50 L59.60 290.50 Z" fill="#ffcccc"/>
<path d="M59.60 220.40 L61.16 220.40 L62.73 220.40 L64.29 220.40 L65.85 220.40 L67.41 220.40 L68.97 220.40 L70.54 220.40 L72.10 220.40 L73.66 220.40 L75.22 220.40 L76.79 220.40 L78.35 220.40 L79.91 220.40 L81.47 220.40 L83.04 220.40 L84.60 220.40 L86.16 220.40 L87.72 220.40 L89.29 220.40 L90.85 220.40 L92.41 220.40 L93.97 220.40 L95.54 220.40 L97.10 220.40 L98.66 220.40 L100.22 220.40 L101.79 220.40 L103.35 220.49 L104.91 221.35 L106.47 221.98 L108.04 222.37 L109.60 222.50 L111.16 222.37 L112.72 221.98 L114.29 221.35 L115.85 220.49 L117.41 220.40 L118.97 220.40 L120.54 220.40 L122.10 220.40 L123.66 220.40 L125.22 220.40 L126.79 220.40 L128.35 220.40 L129.91 220.40 L131.47 220.40 L133.04 220.40 L134.60 220.40 L136.16 220.40 L137.72 220.40 L139.29 220.40 L140.85 220.40 L142.41 220.40 L143.97 220.40 L145.54 220.40 L147.10 220.40 L148.66 220.40 L150.22 220.40 L151.79 220.40 L153.35 220.40 L154.91 220.40 L156.47 220.40 L158.04 220.40 L159.60 220.40 L159.60 220.40 L59.60 220.40 Z" fill="#ffcccc"/>
<path d="M57.60 162.44 L59.23 164.80 L60.85 167.15 L62.48 169.50 L64.10 171.84 L65.72 174.18 L67.35 176.51 L68.97 178.83 L70.60 181.14 L72.22 183.43 L73.85 185.72 L75.47 187.99 L77.10 190.25 L78.72 192.49 L80.35 194.71 L81.97 196.90 L83.60 199.07 L85.22 201.22 L86.85 203.32 L88.47 205.39 L90.10 207.40 L91.72 209.36 L93.35 211.26 L94.97 213.07 L96.60 214.79 L98.22 216.40 L99.85 217.88 L101.47 219.20 L103.10 220.33 L104.72 221.25 L106.35 221.94 L107.97 222.36 L109.60 222.50 L111.22 222.36 L112.85 221.94 L114.47 221.25 L116.10 220.33 L117.72 219.20 L119.35 217.88 L120.97 216.40 L122.60 214.79 L124.22 213.07 L125.85 211.26 L127.47 209.36 L129.10 207.40 L130.72 205.39 L132.35 203.32 L133.97 201.22 L135.60 199.07 L137.22 196.90 L138.85 194.71 L140.47 192.49 L142.10 190.25 L143.72 187.99 L145.35 185.72 L146.97 183.43 L148.60 181.14 L150.22 178.83 L151.85 176.51 L153.47 174.18 L155.10 171.84 L156.72 169.50 L158.35 167.15 L159.97 164.80 L161.60 162.44" fill="none" stroke="#ff0000" stroke-width="1.6"/>
<path d="M57.60 324.56 L59.23 322.20 L60.85 319.85 L62.48 317.50 L64.10 315.16 L65.72 312.82 L67.35 310.49 L68.97 308.17 L70.60 305.86 L72.22 303.57 L73.85 301.28 L75.47 299.01 L77.10 296.75 L78.72 294.51 L80.35 292.29 L81.97 290.10 L83.60 287.93 L85.22 285.78 L86.85 283.68 L88.47 281.61 L90.10 279.60 L91.72 277.64 L93.35 275.74 L94.97 273.93 L96.60 272.21 L98.22 270.60 L99.85 269.12 L101.47 267.80 L103.10 266.67 L104.72 265.75 L106.35 265.06 L107.97 264.64 L109.60 264.50 L111.22 264.64 L112.85 265.06 L114.47 265.75 L116.10 266.67 L117.72 267.80 L119.35 269.12 L120.97 270.60 L122.60 272.21 L124.22 273.93 L125.85 275.74 L127.47 277.64 L129.10 279.60 L130.72 281.61 L132.35 283.68 L133.97 285.78 L135.60 287.93 L137.22 290.10 L138.85 292.29 L140.47 294.51 L142.10 296.75 L143.72 299.01 L145.35 301.28 L146.97 303.57 L148.60 305.86 L150.22 308.17 L151.85 310.49 L153.47 312.82 L155.10 315.16 L156.72 317.50 L158.35 319.85 L159.97 322.20 L161.60 324.56" fill="none" stroke="#ff0000" stroke-width="1.6"/>
<path d="M57.60 162.44 L59.23 164.80 L60.85 167.15 L62.48 169.50 L64.10 171.84 L65.72 174.18 L67.35 176.51 L68.97 178.83 L70.60 181.14 L72.22 183.43 L73.85 185.72 L75.47 187.99 L77.10 190.25 L78.72 192.49 L80.35 194.71 L81.97 196.90 L83.60 199.07 L85.22 201.22 L86.85 203.32 L88.47 205.39 L90.10 207.40 L91.72 209.36 L93.35 211.26 L94.97 213.07 L96.60 214.79 L98.22 216.40 L99.85 217.88 L101.47 219.20 L103.10 220.33 L104.72 221.25 L106.35 221.94 L107.97 222.36 L109.60 222.50 L111.22 222.36 L112.85 221.94 L114.47 221.25 L116.10 220.33 L117.72 219.20 L119.35 217.88 L120.97 216.40 L122.60 214.79 L124.22 213.07 L125.85 211.26 L127.47 209.36 L129.10 207.40 L130.72 205.39 L132.35 203.32 L133.97 201.22 L135.60 199.07 L137.22 196.90 L138.85 194.71 L140.47 192.49 L142.10 190.25 L143.72 187.99 L145.35 185.72 L146.97 183.43 L148.60 181.14 L150.22 178.83 L151.85 176.51 L153.47 174.18 L155.10 171.84 L156.72 169.50 L158.35 167.15 L159.97 164.80 L161.60 162.44" fill="none" stroke="#006400" stroke-width="1.6" stroke-dasharray="2.9 1.2"/>
<path d="M57.60 324.56 L59.23 322.20 L60.85 319.85 L62.48 317.50 L64.10 315.16 L65.72 312.82 L67.35 310.49 L68.97 308.17 L70.60 305.86 L72.22 303.57 L73.85 301.28 L75.47 299.01 L77.10 296.75 L78.72 294.51 L80.35 292.29 L81.97 290.10 L83.60 287.93 L85.22 285.78 L86.85 283.68 L88.47 281.61 L90.10 279.60 L91.72 277.64 L93.35 275.74 L94.97 273.93 L96.60 272.21 L98.22 270.60 L99.85 269.12 L101.47 267.80 L103.10 266.67 L104.72 265.75 L106.35 265.06 L107.97 264.64 L109.60 264.50 L111.22 264.64 L112.85 265.06 L114.47 265.75 L116.10 266.67 L117.72 267.80 L119.35 269.12 L120.97 270.60 L122.60 272.21 L124.22 273.93 L125.85 275.74 L127.47 277.64 L129.10 279.60 L130.72 281.61 L132.35 283.68 L133.97 285.78 L135.60 287.93 L137.22 290.10 L138.85 292.29 L140.47 294.51 L142.10 296.75 L143.72 299.01 L145.35 301.28 L146.97 303.57 L148.60 305.86 L150.22 308.17 L151.85 310.49 L153.47 312.82 L155.10 315.16 L156.72 317.50 L158.35 319.85 L159.97 322.20 L161.60 324.56" fill="none" stroke="#006400" stroke-width="1.6" stroke-dasharray="2.9 1.2"/>
</g>
<g clip-path="url(#c11)">
<path d="M159.60 235.51 L161.16 233.18 L162.72 230.86 L164.29 228.53 L165.85 226.21 L167.41 223.88 L168.97 221.56 L170.54 220.40 L172.10 220.40 L173.66 220.40 L175.22 220.40 L176.79 220.40 L178.35 220.40 L179.91 220.40 L181.47 220.40 L183.04 220.40 L184.60 220.40 L186.16 220.40 L187.72 220.40 L189.29 220.40 L190.85 220.40 L192.41 220.40 L193.97 220.40 L195.54 220.40 L197.10 220.40 L198.66 220.40 L200.23 220.40 L201.79 220.40 L203.35 220.40 L204.91 220.40 L206.48 220.40 L208.04 220.40 L209.60 220.40 L211.16 220.40 L212.73 220.40 L214.29 220.40 L215.85 220.40 L217.41 220.40 L218.98 220.40 L220.54 220.40 L222.10 220.40 L223.66 220.40 L225.23 220.40 L226.79 220.40 L228.35 220.40 L229.91 220.40 L231.48 220.40 L233.04 220.40 L234.60 220.40 L236.16 220.40 L237.73 220.40 L239.29 220.40 L240.85 220.40 L242.41 220.40 L243.98 220.40 L245.54 220.40 L247.10 220.40 L248.66 220.40 L250.23 221.56 L251.79 223.88 L253.35 226.21 L254.91 228.53 L256.48 230.86 L258.04 233.18 L259.60 235.51 L259.60 290.50 L159.60 290.50 Z" fill="#ffcccc"/>
<path d="M159.60 220.40 L161.16 220.40 L162.72 220.40 L164.29 220.40 L165.85 220.40 L167.41 220.40 L168.97 220.40 L170.54 220.40 L172.10 220.40 L173.66 220.40 L175.22 220.40 L176.79 220.40 L178.35 220.40 L179.91 220.40 L181.47 220.40 L183.04 220.40 L184.60 220.40 L186.16 220.40 L187.72 220.40 L189.29 220.40 L190.85 220.40 L192.41 220.40 L193.97 220.40 L195.54 220.40 L197.10 220.40 L198.66 220.40 L200.23 220.40 L201.79 220.40 L203.35 220.40 L204.91 220.40 L206.48 220.40 L208.04 220.40 L209.60 220.40 L211.16 220.40 L212.73 220.40 L214.29 220.40 L215.85 220.40 L217.41 220.40 L218.98 220.40 L220.54 220.40 L222.10 220.40 L223.66 220.40 L225.23 220.40 L226.79 220.40 L228.35 220.40 L229.91 220.40 L231.48 220.40 L233.04 220.40 L234.60 220.40 L236.16 220.40 L237.73 220.40 L239.29 220.40 L240.85 220.40 L242.41 220.40 L243.98 220.40 L245.54 220.40 L247.10 220.40 L248.66 220.40 L250.23 220.40 L251.79 220.40 L253.35 220.40 L254.91 220.40 L256.48 220.40 L258.04 220.40 L259.60 220.40 L259.60 220.40 L159.60 220.40 Z" fill="#ffcccc"/>
<path d="M157.60 80.50 L159.22 82.93 L160.85 85.35 L162.47 87.77 L164.10 90.19 L165.72 92.61 L167.35 95.02 L168.97 97.44 L170.60 99.85 L172.22 102.25 L173.85 104.66 L175.47 107.06 L177.10 109.45 L178.72 111.84 L180.35 114.22 L181.97 116.60 L183.60 118.97 L185.22 121.33 L186.85 123.67 L188.47 126.00 L190.10 128.32 L191.72 130.61 L193.35 132.87 L194.97 135.10 L196.60 137.29 L198.23 139.41 L199.85 141.45 L201.48 143.38 L203.10 145.15 L204.73 146.69 L206.35 147.92 L207.98 148.72 L209.60 149.00 L211.23 148.72 L212.85 147.92 L214.48 146.69 L216.10 145.15 L217.73 143.38 L219.35 141.45 L220.98 139.41 L222.60 137.29 L224.23 135.10 L225.85 132.87 L227.48 130.61 L229.10 128.32 L230.73 126.00 L232.35 123.67 L233.98 121.33 L235.60 118.97 L237.23 116.60 L238.85 114.22 L240.48 111.84 L242.10 109.45 L243.73 107.06 L245.35 104.66 L246.98 102.25 L248.60 99.85 L250.23 97.44 L251.85 95.02 L253.48 92.61 L255.10 90.19 L256.73 87.77 L258.35 85.35 L259.98 82.93 L261.60 80.50" fill="none" stroke="#ff0000" stroke-width="1.6"/>
<path d="M157.60 238.50 L159.22 236.07 L160.85 233.65 L162.47 231.23 L164.10 228.81 L165.72 226.39 L167.35 223.98 L168.97 221.56 L170.60 219.15 L172.22 216.75 L173.85 214.34 L175.47 211.94 L177.10 209.55 L178.72 207.16 L180.35 204.78 L181.97 202.40 L183.60 200.03 L185.22 197.67 L186.85 195.33 L188.47 193.00 L190.10 190.68 L191.72 188.39 L193.35 186.13 L194.97 183.90 L196.60 181.71 L198.23 179.59 L199.85 177.55 L201.48 175.62 L203.10 173.85 L204.73 172.31 L206.35 171.08 L207.98 170.28 L209.60 170.00 L211.23 170.28 L212.85 171.08 L214.48 172.31 L216.10 173.85 L217.73 175.62 L219.35 177.55 L220.98 179.59 L222.60 181.71 L224.23 183.90 L225.85 186.13 L227.48 188.39 L229.10 190.68 L230.73 193.00 L232.35 195.33 L233.98 197.67 L235.60 200.03 L237.23 202.40 L238.85 204.78 L240.48 207.16 L242.10 209.55 L243.73 211.94 L245.35 214.34 L246.98 216.75 L248.60 219.15 L250.23 221.56 L251.85 223.98 L253.48 226.39 L255.10 228.81 L256.73 231.23 L258.35 233.65 L259.98 236.07 L261.60 238.50" fill="none" stroke="#ff0000" stroke-width="1.6"/>
<path d="M157.60 75.10 L159.22 77.37 L160.85 79.62 L162.47 81.87 L164.10 84.10 L165.72 86.31 L167.35 88.51 L168.97 90.70 L170.60 92.86 L172.22 95.01 L173.85 97.13 L175.47 99.23 L177.10 101.30 L178.72 103.34 L180.35 105.35 L181.97 107.32 L183.60 109.25 L185.22 111.13 L186.85 112.96 L188.47 114.73 L190.10 116.44 L191.72 118.07 L193.35 119.61 L194.97 121.07 L196.60 122.41 L198.23 123.64 L199.85 124.75 L201.48 125.71 L203.10 126.51 L204.73 127.16 L206.35 127.62 L207.98 127.91 L209.60 128.00 L211.23 127.91 L212.85 127.62 L214.48 127.16 L216.10 126.51 L217.73 125.71 L219.35 124.75 L220.98 123.64 L222.60 122.41 L224.23 121.07 L225.85 119.61 L227.48 118.07 L229.10 116.44 L230.73 114.73 L232.35 112.96 L233.98 111.13 L235.60 109.25 L237.23 107.32 L238.85 105.35 L240.48 103.34 L242.10 101.30 L243.73 99.23 L245.35 97.13 L246.98 95.01 L248.60 92.86 L250.23 90.70 L251.85 88.51 L253.48 86.31 L255.10 84.10 L256.73 81.87 L258.35 79.62 L259.98 77.37 L261.60 75.10" fill="none" stroke="#006400" stroke-width="1.6" stroke-dasharray="2.9 1.2"/>
<path d="M157.60 243.90 L159.22 241.63 L160.85 239.38 L162.47 237.13 L164.10 234.90 L165.72 232.69 L167.35 230.49 L168.97 228.30 L170.60 226.14 L172.22 223.99 L173.85 221.87 L175.47 219.77 L177.10 217.70 L178.72 215.66 L180.35 213.65 L181.97 211.68 L183.60 209.75 L185.22 207.87 L186.85 206.04 L188.47 204.27 L190.10 202.56 L191.72 200.93 L193.35 199.39 L194.97 197.93 L196.60 196.59 L198.23 195.36 L199.85 194.25 L201.48 193.29 L203.10 192.49 L204.73 191.84 L206.35 191.38 L207.98 191.09 L209.60 191.00 L211.23 191.09 L212.85 191.38 L214.48 191.84 L216.10 192.49 L217.73 193.29 L219.35 194.25 L220.98 195.36 L222.60 196.59 L224.23 197.93 L225.85 199.39 L227.48 200.93 L229.10 202.56 L230.73 204.27 L232.35 206.04 L233.98 207.87 L235.60 209.75 L237.23 211.68 L238.85 213.65 L240.48 215.66 L242.10 217.70 L243.73 219.77 L245.35 221.87 L246.98 223.99 L248.60 226.14 L250.23 228.30 L251.85 230.49 L253.48 232.69 L255.10 234.90 L256.73 237.13 L258.35 239.38 L259.98 241.63 L261.60 243.90" fill="none" stroke="#006400" stroke-width="1.6" stroke-dasharray="2.9 1.2"/>
</g>
<g clip-path="url(#c12)">
<path d="M259.60 277.51 L261.16 275.18 L262.73 272.86 L264.29 270.53 L265.85 268.21 L267.41 265.88 L268.98 263.56 L270.54 261.25 L272.10 258.93 L273.66 256.62 L275.23 254.31 L276.79 252.01 L278.35 249.71 L279.91 247.42 L281.48 245.13 L283.04 242.85 L284.60 240.58 L286.16 238.32 L287.73 236.07 L289.29 233.84 L290.85 231.62 L292.41 229.43 L293.98 227.26 L295.54 225.13 L297.10 223.05 L298.66 221.03 L300.23 220.40 L301.79 220.40 L303.35 220.40 L304.91 220.40 L306.48 220.40 L308.04 220.40 L309.60 220.40 L311.16 220.40 L312.73 220.40 L314.29 220.40 L315.85 220.40 L317.41 220.40 L318.98 220.40 L320.54 221.03 L322.10 223.05 L323.66 225.13 L325.23 227.26 L326.79 229.43 L328.35 231.62 L329.91 233.84 L331.48 236.07 L333.04 238.32 L334.60 240.58 L336.16 242.85 L337.73 245.13 L339.29 247.42 L340.85 249.71 L342.41 252.01 L343.98 254.31 L345.54 256.62 L347.10 258.93 L348.66 261.25 L350.23 263.56 L351.79 265.88 L353.35 268.21 L354.91 270.53 L356.48 272.86 L358.04 275.18 L359.60 277.51 L359.60 290.50 L259.60 290.50 Z" fill="#ffcccc"/>
<path d="M259.60 220.40 L261.16 220.40 L262.73 220.40 L264.29 220.40 L265.85 220.40 L267.41 220.40 L268.98 220.40 L270.54 220.40 L272.10 220.40 L273.66 220.40 L275.23 220.40 L276.79 220.40 L278.35 220.40 L279.91 220.40 L281.48 220.40 L283.04 220.40 L284.60 220.40 L286.16 220.40 L287.73 220.40 L289.29 220.40 L290.85 220.40 L292.41 220.40 L293.98 220.40 L295.54 220.40 L297.10 220.40 L298.66 220.40 L300.23 220.40 L301.79 220.40 L303.35 220.40 L304.91 220.40 L306.48 220.40 L308.04 220.40 L309.60 220.40 L311.16 220.40 L312.73 220.40 L314.29 220.40 L315.85 220.40 L317.41 220.40 L318.98 220.40 L320.54 220.40 L322.10 220.40 L323.66 220.40 L325.23 220.40 L326.79 220.40 L328.35 220.40 L329.91 220.40 L331.48 220.40 L333.04 220.40 L334.60 220.40 L336.16 220.40 L337.73 220.40 L339.29 220.40 L340.85 220.40 L342.41 220.40 L343.98 220.40 L345.54 220.40 L347.10 220.40 L348.66 220.40 L350.23 220.40 L351.79 220.40 L353.35 220.40 L354.91 220.40 L356.48 220.40 L358.04 220.40 L359.60 220.40 L359.60 220.40 L259.60 220.40 Z" fill="#ffcccc"/>
<path d="M257.60 122.50 L259.23 124.93 L260.85 127.35 L262.48 129.77 L264.10 132.19 L265.73 134.61 L267.35 137.02 L268.98 139.44 L270.60 141.85 L272.23 144.25 L273.85 146.66 L275.48 149.06 L277.10 151.45 L278.73 153.84 L280.35 156.22 L281.98 158.60 L283.60 160.97 L285.23 163.33 L286.85 165.67 L288.48 168.00 L290.10 170.32 L291.73 172.61 L293.35 174.87 L294.98 177.10 L296.60 179.29 L298.23 181.41 L299.85 183.45 L301.48 185.38 L303.10 187.15 L304.73 188.69 L306.35 189.92 L307.98 190.72 L309.60 191.00 L311.23 190.72 L312.85 189.92 L314.48 188.69 L316.10 187.15 L317.73 185.38 L319.35 183.45 L320.98 181.41 L322.60 179.29 L324.23 177.10 L325.85 174.87 L327.48 172.61 L329.10 170.32 L330.73 168.00 L332.35 165.67 L333.98 163.33 L335.60 160.97 L337.23 158.60 L338.85 156.22 L340.48 153.84 L342.10 151.45 L343.73 149.06 L345.35 146.66 L346.98 144.25 L348.60 141.85 L350.23 139.44 L351.85 137.02 L353.48 134.61 L355.10 132.19 L356.73 129.77 L358.35 127.35 L359.98 124.93 L361.60 122.50" fill="none" stroke="#ff0000" stroke-width="1.6"/>
<path d="M257.60 280.50 L259.23 278.07 L260.85 275.65 L262.48 273.23 L264.10 270.81 L265.73 268.39 L267.35 265.98 L268.98 263.56 L270.60 261.15 L272.23 258.75 L273.85 256.34 L275.48 253.94 L277.10 251.55 L278.73 249.16 L280.35 246.78 L281.98 244.40 L283.60 242.03 L285.23 239.67 L286.85 237.33 L288.48 235.00 L290.10 232.68 L291.73 230.39 L293.35 228.13 L294.98 225.90 L296.60 223.71 L298.23 221.59 L299.85 219.55 L301.48 217.62 L303.10 215.85 L304.73 214.31 L306.35 213.08 L307.98 212.28 L309.60 212.00 L311.23 212.28 L312.85 213.08 L314.48 214.31 L316.10 215.85 L317.73 217.62 L319.35 219.55 L320.98 221.59 L322.60 223.71 L324.23 225.90 L325.85 228.13 L327.48 230.39 L329.10 232.68 L330.73 235.00 L332.35 237.33 L333.98 239.67 L335.60 242.03 L337.23 244.40 L338.85 246.78 L340.48 249.16 L342.10 251.55 L343.73 253.94 L345.35 256.34 L346.98 258.75 L348.60 261.15 L350.23 263.56 L351.85 265.98 L353.48 268.39 L355.10 270.81 L356.73 273.23 L358.35 275.65 L359.98 278.07 L361.60 280.50" fill="none" stroke="#ff0000" stroke-width="1.6"/>
<path d="M257.60 117.10 L259.23 119.37 L260.85 121.62 L262.48 123.87 L264.10 126.10 L265.73 128.31 L267.35 130.51 L268.98 132.70 L270.60 134.86 L272.23 137.01 L273.85 139.13 L275.48 141.23 L277.10 143.30 L278.73 145.34 L280.35 147.35 L281.98 149.32 L283.60 151.25 L285.23 153.13 L286.85 154.96 L288.48 156.73 L290.10 158.44 L291.73 160.07 L293.35 161.61 L294.98 163.07 L296.60 164.41 L298.23 165.64 L299.85 166.75 L301.48 167.71 L303.10 168.51 L304.73 169.16 L306.35 169.62 L307.98 169.91 L309.60 170.00 L311.23 169.91 L312.85 169.62 L314.48 169.16 L316.10 168.51 L317.73 167.71 L319.35 166.75 L320.98 165.64 L322.60 164.41 L324.23 163.07 L325.85 161.61 L327.48 160.07 L329.10 158.44 L330.73 156.73 L332.35 154.96 L333.98 153.13 L335.60 151.25 L337.23 149.32 L338.85 147.35 L340.48 145.34 L342.10 143.30 L343.73 141.23 L345.35 139.13 L346.98 137.01 L348.60 134.86 L350.23 132.70 L351.85 130.51 L353.48 128.31 L355.10 126.10 L356.73 123.87 L358.35 121.62 L359.98 119.37 L361.60 117.10" fill="none" stroke="#006400" stroke-width="1.6" stroke-dasharray="2.9 1.2"/>
<path d="M257.60 285.90 L259.23 283.63 L260.85 281.38 L262.48 279.13 L264.10 276.90 L265.73 274.69 L267.35 272.49 L268.98 270.30 L270.60 268.14 L272.23 265.99 L273.85 263.87 L275.48 261.77 L277.10 259.70 L278.73 257.66 L280.35 255.65 L281.98 253.68 L283.60 251.75 L285.23 249.87 L286.85 248.04 L288.48 246.27 L290.10 244.56 L291.73 242.93 L293.35 241.39 L294.98 239.93 L296.60 238.59 L298.23 237.36 L299.85 236.25 L301.48 235.29 L303.10 234.49 L304.73 233.84 L306.35 233.38 L307.98 233.09 L309.60 233.00 L311.23 233.09 L312.85 233.38 L314.48 233.84 L316.10 234.49 L317.73 235.29 L319.35 236.25 L320.98 237.36 L322.60 238.59 L324.23 239.93 L325.85 241.39 L327.48 242.93 L329.10 244.56 L330.73 246.27 L332.35 248.04 L333.98 249.87 L335.60 251.75 L337.23 253.68 L338.85 255.65 L340.48 257.66 L342.10 259.70 L343.73 261.77 L345.35 263.87 L346.98 265.99 L348.60 268.14 L350.23 270.30 L351.85 272.49 L353.48 274.69 L355.10 276.90 L356.73 279.13 L358.35 281.38 L359.98 283.63 L361.60 285.90" fill="none" stroke="#006400" stroke-width="1.6" stroke-dasharray="2.9 1.2"/>
</g>
<g clip-path="url(#c13)">
<path d="M359.60 319.51 L361.16 317.18 L362.73 314.86 L364.29 312.53 L365.85 310.21 L367.41 307.88 L368.98 305.56 L370.54 303.25 L372.10 300.93 L373.66 298.62 L375.23 296.31 L376.79 294.01 L378.35 291.71 L379.91 289.42 L381.48 287.13 L383.04 284.85 L384.60 282.58 L386.16 280.32 L387.73 278.07 L389.29 275.84 L390.85 273.62 L392.41 271.43 L393.98 269.26 L395.54 267.13 L397.10 265.05 L398.66 263.03 L400.23 261.09 L401.79 259.27 L403.35 257.60 L404.91 256.15 L406.48 255.01 L408.04 254.26 L409.60 254.00 L411.16 254.26 L412.73 255.01 L414.29 256.15 L415.85 257.60 L417.41 259.27 L418.98 261.09 L420.54 263.03 L422.10 265.05 L423.66 267.13 L425.23 269.26 L426.79 271.43 L428.35 273.62 L429.91 275.84 L431.48 278.07 L433.04 280.32 L434.60 282.58 L436.16 284.85 L437.73 287.13 L439.29 289.42 L440.85 291.71 L442.41 294.01 L443.98 296.31 L445.54 298.62 L447.10 300.93 L448.66 303.25 L450.23 305.56 L451.79 307.88 L453.35 310.21 L454.91 312.53 L456.48 314.86 L458.04 317.18 L459.60 319.51 L459.60 290.50 L359.60 290.50 Z" fill="#ffcccc"/>
<path d="M359.60 220.40 L361.16 220.40 L362.73 220.40 L364.29 220.40 L365.85 220.40 L367.41 220.40 L368.98 220.40 L370.54 220.40 L372.10 220.40 L373.66 220.40 L375.23 220.40 L376.79 220.40 L378.35 220.40 L379.91 220.40 L381.48 220.40 L383.04 220.40 L384.60 220.40 L386.16 220.40 L387.73 220.40 L389.29 220.40 L390.85 220.40 L392.41 220.40 L393.98 220.40 L395.54 220.40 L397.10 221.95 L398.66 223.97 L400.23 225.91 L401.79 227.73 L403.35 229.40 L404.91 230.85 L406.48 231.99 L408.04 232.74 L409.60 233.00 L411.16 232.74 L412.73 231.99 L414.29 230.85 L415.85 229.40 L417.41 227.73 L418.98 225.91 L420.54 223.97 L422.10 221.95 L423.66 220.40 L425.23 220.40 L426.79 220.40 L428.35 220.40 L429.91 220.40 L431.48 220.40 L433.04 220.40 L434.60 220.40 L436.16 220.40 L437.73 220.40 L439.29 220.40 L440.85 220.40 L442.41 220.40 L443.98 220.40 L445.54 220.40 L447.10 220.40 L448.66 220.40 L450.23 220.40 L451.79 220.40 L453.35 220.40 L454.91 220.40 L456.48 220.40 L458.04 220.40 L459.60 220.40 L459.60 220.40 L359.60 220.40 Z" fill="#ffcccc"/>
<path d="M357.60 164.50 L359.23 166.93 L360.85 169.35 L362.48 171.77 L364.10 174.19 L365.73 176.61 L367.35 179.02 L368.98 181.44 L370.60 183.85 L372.23 186.25 L373.85 188.66 L375.48 191.06 L377.10 193.45 L378.73 195.84 L380.35 198.22 L381.98 200.60 L383.60 202.97 L385.23 205.33 L386.85 207.67 L388.48 210.00 L390.10 212.32 L391.73 214.61 L393.35 216.87 L394.98 219.10 L396.60 221.29 L398.23 223.41 L399.85 225.45 L401.48 227.38 L403.10 229.15 L404.73 230.69 L406.35 231.92 L407.98 232.72 L409.60 233.00 L411.23 232.72 L412.85 231.92 L414.48 230.69 L416.10 229.15 L417.73 227.38 L419.35 225.45 L420.98 223.41 L422.60 221.29 L424.23 219.10 L425.85 216.87 L427.48 214.61 L429.10 212.32 L430.73 210.00 L432.35 207.67 L433.98 205.33 L435.60 202.97 L437.23 200.60 L438.85 198.22 L440.48 195.84 L442.10 193.45 L443.73 191.06 L445.35 188.66 L446.98 186.25 L448.60 183.85 L450.23 181.44 L451.85 179.02 L453.48 176.61 L455.10 174.19 L456.73 171.77 L458.35 169.35 L459.98 166.93 L461.60 164.50" fill="none" stroke="#ff0000" stroke-width="1.6"/>
<path d="M357.60 322.50 L359.23 320.07 L360.85 317.65 L362.48 315.23 L364.10 312.81 L365.73 310.39 L367.35 307.98 L368.98 305.56 L370.60 303.15 L372.23 300.75 L373.85 298.34 L375.48 295.94 L377.10 293.55 L378.73 291.16 L380.35 288.78 L381.98 286.40 L383.60 284.03 L385.23 281.67 L386.85 279.33 L388.48 277.00 L390.10 274.68 L391.73 272.39 L393.35 270.13 L394.98 267.90 L396.60 265.71 L398.23 263.59 L399.85 261.55 L401.48 259.62 L403.10 257.85 L404.73 256.31 L406.35 255.08 L407.98 254.28 L409.60 254.00 L411.23 254.28 L412.85 255.08 L414.48 256.31 L416.10 257.85 L417.73 259.62 L419.35 261.55 L420.98 263.59 L422.60 265.71 L424.23 267.90 L425.85 270.13 L427.48 272.39 L429.10 274.68 L430.73 277.00 L432.35 279.33 L433.98 281.67 L435.60 284.03 L437.23 286.40 L438.85 288.78 L440.48 291.16 L442.10 293.55 L443.73 295.94 L445.35 298.34 L446.98 300.75 L448.60 303.15 L450.23 305.56 L451.85 307.98 L453.48 310.39 L455.10 312.81 L456.73 315.23 L458.35 317.65 L459.98 320.07 L461.60 322.50" fill="none" stroke="#ff0000" stroke-width="1.6"/>
<path d="M357.60 159.10 L359.23 161.37 L360.85 163.62 L362.48 165.87 L364.10 168.10 L365.73 170.31 L367.35 172.51 L368.98 174.70 L370.60 176.86 L372.23 179.01 L373.85 181.13 L375.48 183.23 L377.10 185.30 L378.73 187.34 L380.35 189.35 L381.98 191.32 L383.60 193.25 L385.23 195.13 L386.85 196.96 L388.48 198.73 L390.10 200.44 L391.73 202.07 L393.35 203.61 L394.98 205.07 L396.60 206.41 L398.23 207.64 L399.85 208.75 L401.48 209.71 L403.10 210.51 L404.73 211.16 L406.35 211.62 L407.98 211.91 L409.60 212.00 L411.23 211.91 L412.85 211.62 L414.48 211.16 L416.10 210.51 L417.73 209.71 L419.35 208.75 L420.98 207.64 L422.60 206.41 L424.23 205.07 L425.85 203.61 L427.48 202.07 L429.10 200.44 L430.73 198.73 L432.35 196.96 L433.98 195.13 L435.60 193.25 L437.23 191.32 L438.85 189.35 L440.48 187.34 L442.10 185.30 L443.73 183.23 L445.35 181.13 L446.98 179.01 L448.60 176.86 L450.23 174.70 L451.85 172.51 L453.48 170.31 L455.10 168.10 L456.73 165.87 L458.35 163.62 L459.98 161.37 L461.60 159.10" fill="none" stroke="#006400" stroke-width="1.6" stroke-dasharray="2.9 1.2"/>
<path d="M357.60 327.90 L359.23 325.63 L360.85 323.38 L362.48 321.13 L364.10 318.90 L365.73 316.69 L367.35 314.49 L368.98 312.30 L370.60 310.14 L372.23 307.99 L373.85 305.87 L375.48 303.77 L377.10 301.70 L378.73 299.66 L380.35 297.65 L381.98 295.68 L383.60 293.75 L385.23 291.87 L386.85 290.04 L388.48 288.27 L390.10 286.56 L391.73 284.93 L393.35 283.39 L394.98 281.93 L396.60 280.59 L398.23 279.36 L399.85 278.25 L401.48 277.29 L403.10 276.49 L404.73 275.84 L406.35 275.38 L407.98 275.09 L409.60 275.00 L411.23 275.09 L412.85 275.38 L414.48 275.84 L416.10 276.49 L417.73 277.29 L419.35 278.25 L420.98 279.36 L422.60 280.59 L424.23 281.93 L425.85 283.39 L427.48 284.93 L429.10 286.56 L430.73 288.27 L432.35 290.04 L433.98 291.87 L435.60 293.75 L437.23 295.68 L438.85 297.65 L440.48 299.66 L442.10 301.70 L443.73 303.77 L445.35 305.87 L446.98 307.99 L448.60 310.14 L450.23 312.30 L451.85 314.49 L453.48 316.69 L455.10 318.90 L456.73 321.13 L458.35 323.38 L459.98 325.63 L461.60 327.90" fill="none" stroke="#006400" stroke-width="1.6" stroke-dasharray="2.9 1.2"/>
</g>
<g clip-path="url(#c14)">
<path d="M459.60 361.51 L461.16 359.18 L462.73 356.86 L464.29 354.53 L465.85 352.21 L467.41 349.88 L468.98 347.56 L470.54 345.25 L472.10 342.93 L473.66 340.62 L475.23 338.31 L476.79 336.01 L478.35 333.71 L479.91 331.42 L481.48 329.13 L483.04 326.85 L484.60 324.58 L486.16 322.32 L487.73 320.07 L489.29 317.84 L490.85 315.62 L492.41 313.43 L493.98 311.26 L495.54 309.13 L497.10 307.05 L498.66 305.03 L500.23 303.09 L501.79 301.27 L503.35 299.60 L504.91 298.15 L506.48 297.01 L508.04 296.26 L509.60 296.00 L511.16 296.26 L512.73 297.01 L514.29 298.15 L515.85 299.60 L517.41 301.27 L518.98 303.09 L520.54 305.03 L522.10 307.05 L523.66 309.13 L525.23 311.26 L526.79 313.43 L528.35 315.62 L529.91 317.84 L531.48 320.07 L533.04 322.32 L534.60 324.58 L536.16 326.85 L537.73 329.13 L539.29 331.42 L540.85 333.71 L542.41 336.01 L543.98 338.31 L545.54 340.62 L547.10 342.93 L548.66 345.25 L550.23 347.56 L551.79 349.88 L553.35 352.21 L554.91 354.53 L556.48 356.86 L558.04 359.18 L559.60 361.51 L559.60 290.50 L459.60 290.50 Z" fill="#ffcccc"/>
<path d="M459.60 220.40 L461.16 220.40 L462.73 220.40 L464.29 220.40 L465.85 220.40 L467.41 221.12 L468.98 223.44 L470.54 225.75 L472.10 228.07 L473.66 230.38 L475.23 232.69 L476.79 234.99 L478.35 237.29 L479.91 239.58 L481.48 241.87 L483.04 244.15 L484.60 246.42 L486.16 248.68 L487.73 250.93 L489.29 253.16 L490.85 255.38 L492.41 257.57 L493.98 259.74 L495.54 261.87 L497.10 263.95 L498.66 265.97 L500.23 267.91 L501.79 269.73 L503.35 271.40 L504.91 272.85 L506.48 273.99 L508.04 274.74 L509.60 275.00 L511.16 274.74 L512.73 273.99 L514.29 272.85 L515.85 271.40 L517.41 269.73 L518.98 267.91 L520.54 265.97 L522.10 263.95 L523.66 261.87 L525.23 259.74 L526.79 257.57 L528.35 255.38 L529.91 253.16 L531.48 250.93 L533.04 248.68 L534.60 246.42 L536.16 244.15 L537.73 241.87 L539.29 239.58 L540.85 237.29 L542.41 234.99 L543.98 232.69 L545.54 230.38 L547.10 228.07 L548.66 225.75 L550.23 223.44 L551.79 221.12 L553.35 220.40 L554.91 220.40 L556.48 220.40 L558.04 220.40 L559.60 220.40 L559.60 220.40 L459.60 220.40 Z" fill="#ffcccc"/>
<path d="M457.60 206.50 L459.23 208.93 L460.85 211.35 L462.48 213.77 L464.10 216.19 L465.73 218.61 L467.35 221.02 L468.98 223.44 L470.60 225.85 L472.23 228.25 L473.85 230.66 L475.48 233.06 L477.10 235.45 L478.73 237.84 L480.35 240.22 L481.98 242.60 L483.60 244.97 L485.23 247.33 L486.85 249.67 L488.48 252.00 L490.10 254.32 L491.73 256.61 L493.35 258.87 L494.98 261.10 L496.60 263.29 L498.23 265.41 L499.85 267.45 L501.48 269.38 L503.10 271.15 L504.73 272.69 L506.35 273.92 L507.98 274.72 L509.60 275.00 L511.23 274.72 L512.85 273.92 L514.48 272.69 L516.10 271.15 L517.73 269.38 L519.35 267.45 L520.98 265.41 L522.60 263.29 L524.23 261.10 L525.85 258.87 L527.48 256.61 L529.10 254.32 L530.73 252.00 L532.35 249.67 L533.98 247.33 L535.60 244.97 L537.23 242.60 L538.85 240.22 L540.48 237.84 L542.10 235.45 L543.73 233.06 L545.35 230.66 L546.98 228.25 L548.60 225.85 L550.23 223.44 L551.85 221.02 L553.48 218.61 L555.10 216.19 L556.73 213.77 L558.35 211.35 L559.98 208.93 L561.60 206.50" fill="none" stroke="#ff0000" stroke-width="1.6"/>
<path d="M457.60 364.50 L459.23 362.07 L460.85 359.65 L462.48 357.23 L464.10 354.81 L465.73 352.39 L467.35 349.98 L468.98 347.56 L470.60 345.15 L472.23 342.75 L473.85 340.34 L475.48 337.94 L477.10 335.55 L478.73 333.16 L480.35 330.78 L481.98 328.40 L483.60 326.03 L485.23 323.67 L486.85 321.33 L488.48 319.00 L490.10 316.68 L491.73 314.39 L493.35 312.13 L494.98 309.90 L496.60 307.71 L498.23 305.59 L499.85 303.55 L501.48 301.62 L503.10 299.85 L504.73 298.31 L506.35 297.08 L507.98 296.28 L509.60 296.00 L511.23 296.28 L512.85 297.08 L514.48 298.31 L516.10 299.85 L517.73 301.62 L519.35 303.55 L520.98 305.59 L522.60 307.71 L524.23 309.90 L525.85 312.13 L527.48 314.39 L529.10 316.68 L530.73 319.00 L532.35 321.33 L533.98 323.67 L535.60 326.03 L537.23 328.40 L538.85 330.78 L540.48 333.16 L542.10 335.55 L543.73 337.94 L545.35 340.34 L546.98 342.75 L548.60 345.15 L550.23 347.56 L551.85 349.98 L553.48 352.39 L555.10 354.81 L556.73 357.23 L558.35 359.65 L559.98 362.07 L561.60 364.50" fill="none" stroke="#ff0000" stroke-width="1.6"/>
<path d="M457.60 201.10 L459.23 203.37 L460.85 205.62 L462.48 207.87 L464.10 210.10 L465.73 212.31 L467.35 214.51 L468.98 216.70 L470.60 218.86 L472.23 221.01 L473.85 223.13 L475.48 225.23 L477.10 227.30 L478.73 229.34 L480.35 231.35 L481.98 233.32 L483.60 235.25 L485.23 237.13 L486.85 238.96 L488.48 240.73 L490.10 242.44 L491.73 244.07 L493.35 245.61 L494.98 247.07 L496.60 248.41 L498.23 249.64 L499.85 250.75 L501.48 251.71 L503.10 252.51 L504.73 253.16 L506.35 253.62 L507.98 253.91 L509.60 254.00 L511.23 253.91 L512.85 253.62 L514.48 253.16 L516.10 252.51 L517.73 251.71 L519.35 250.75 L520.98 249.64 L522.60 248.41 L524.23 247.07 L525.85 245.61 L527.48 244.07 L529.10 242.44 L530.73 240.73 L532.35 238.96 L533.98 237.13 L535.60 235.25 L537.23 233.32 L538.85 231.35 L540.48 229.34 L542.10 227.30 L543.73 225.23 L545.35 223.13 L546.98 221.01 L548.60 218.86 L550.23 216.70 L551.85 214.51 L553.48 212.31 L555.10 210.10 L556.73 207.87 L558.35 205.62 L559.98 203.37 L561.60 201.10" fill="none" stroke="#006400" stroke-width="1.6" stroke-dasharray="2.9 1.2"/>
<path d="M457.60 369.90 L459.23 367.63 L460.85 365.38 L462.48 363.13 L464.10 360.90 L465.73 358.69 L467.35 356.49 L468.98 354.30 L470.60 352.14 L472.23 349.99 L473.85 347.87 L475.48 345.77 L477.10 343.70 L478.73 341.66 L480.35 339.65 L481.98 337.68 L483.60 335.75 L485.23 333.87 L486.85 332.04 L488.48 330.27 L490.10 328.56 L491.73 326.93 L493.35 325.39 L494.98 323.93 L496.60 322.59 L498.23 321.36 L499.85 320.25 L501.48 319.29 L503.10 318.49 L504.73 317.84 L506.35 317.38 L507.98 317.09 L509.60 317.00 L511.23 317.09 L512.85 317.38 L514.48 317.84 L516.10 318.49 L517.73 319.29 L519.35 320.25 L520.98 321.36 L522.60 322.59 L524.23 323.93 L525.85 325.39 L527.48 326.93 L529.10 328.56 L530.73 330.27 L532.35 332.04 L533.98 333.87 L535.60 335.75 L537.23 337.68 L538.85 339.65 L540.48 341.66 L542.10 343.70 L543.73 345.77 L545.35 347.87 L546.98 349.99 L548.60 352.14 L550.23 354.30 L551.85 356.49 L553.48 358.69 L555.10 360.90 L556.73 363.13 L558.35 365.38 L559.98 367.63 L561.60 369.90" fill="none" stroke="#006400" stroke-width="1.6" stroke-dasharray="2.9 1.2"/>
</g>
<rect x="59.60" y="180.50" width="500.00" height="105.00" fill="none" stroke="#1a1a1a" stroke-width="1.2"/>
<line x1="159.60" y1="180.50" x2="159.60" y2="285.50" stroke="#1a1a1a" stroke-width="1.5"/>
<line x1="259.60" y1="180.50" x2="259.60" y2="285.50" stroke="#1a1a1a" stroke-width="1.5"/>
<line x1="359.60" y1="180.50" x2="359.60" y2="285.50" stroke="#1a1a1a" stroke-width="1.5"/>
<line x1="459.60" y1="180.50" x2="459.60" y2="285.50" stroke="#1a1a1a" stroke-width="1.5"/>
<line x1="59.60" y1="220.40" x2="559.60" y2="220.40" stroke="#000" stroke-width="1.0"/>
<path d="M59.60 264.50h4.40M159.60 264.50h-4.40M59.60 243.50h4.40M159.60 243.50h-4.40M59.60 222.50h4.40M159.60 222.50h-4.40M59.60 201.50h4.40M159.60 201.50h-4.40M159.60 264.50h4.40M259.60 264.50h-4.40M159.60 243.50h4.40M259.60 243.50h-4.40M159.60 222.50h4.40M259.60 222.50h-4.40M159.60 201.50h4.40M259.60 201.50h-4.40M259.60 264.50h4.40M359.60 264.50h-4.40M259.60 243.50h4.40M359.60 243.50h-4.40M259.60 222.50h4.40M359.60 222.50h-4.40M259.60 201.50h4.40M359.60 201.50h-4.40M359.60 264.50h4.40M459.60 264.50h-4.40M359.60 243.50h4.40M459.60 243.50h-4.40M359.60 222.50h4.40M459.60 222.50h-4.40M359.60 201.50h4.40M459.60 201.50h-4.40M459.60 264.50h4.40M559.60 264.50h-4.40M459.60 243.50h4.40M559.60 243.50h-4.40M459.60 222.50h4.40M559.60 222.50h-4.40M459.60 201.50h4.40M559.60 201.50h-4.40" stroke="#1a1a1a" stroke-width="0.75" fill="none"/>
<path d="M84.60 285.50v-4.40M109.60 285.50v-4.40M134.60 285.50v-4.40M184.60 285.50v-4.40M209.60 285.50v-4.40M234.60 285.50v-4.40M284.60 285.50v-4.40M309.60 285.50v-4.40M334.60 285.50v-4.40M384.60 285.50v-4.40M409.60 285.50v-4.40M434.60 285.50v-4.40M484.60 285.50v-4.40M509.60 285.50v-4.40M534.60 285.50v-4.40" stroke="#1a1a1a" stroke-width="1.0" fill="none"/>
<path d="M78.90 90.20V102.40M81.75 96.30h8.1M85.80 92.25v8.1M91.75 96.30h8.1M101.20 90.20L104.10 96.30L101.20 102.40" fill="none" stroke="#666" stroke-width="0.85"/>
<path d="M115.60 90.20V102.40M118.45 96.30h8.1M128.45 96.30h8.1M137.90 90.20L140.80 96.30L137.90 102.40" fill="none" stroke="#666" stroke-width="0.85"/>
<path d="M107.2 100.20 q0.9 1.6 -0.9 3.4" fill="none" stroke="#666" stroke-width="0.9"/>
<path d="M109.60 92.20L109.60 78.20M110.96 81.98L109.60 78.20L108.24 81.98" fill="none" stroke="#000" stroke-width="0.9" stroke-linejoin="miter" stroke-miterlimit="10"/>
<path d="M78.90 237.20V249.40M81.75 243.30h8.1M85.80 239.25v8.1M91.75 243.30h8.1M101.20 237.20L104.10 243.30L101.20 249.40" fill="none" stroke="#666" stroke-width="0.85"/>
<path d="M115.60 237.20V249.40M118.45 243.30h8.1M128.45 243.30h8.1M137.90 237.20L140.80 243.30L137.90 249.40" fill="none" stroke="#666" stroke-width="0.85"/>
<path d="M107.2 247.20 q0.9 1.6 -0.9 3.4" fill="none" stroke="#666" stroke-width="0.9"/>
<path d="M109.60 239.20L109.60 225.20M110.96 228.98L109.60 225.20L108.24 228.98" fill="none" stroke="#000" stroke-width="0.9" stroke-linejoin="miter" stroke-miterlimit="10"/>
<path d="M197.10 90.30V102.50M199.95 96.40h8.1M209.95 96.40h8.1M214.00 92.35v8.1M219.40 90.30L222.30 96.40L219.40 102.50" fill="none" stroke="#666" stroke-width="0.85"/>
<path d="M209.60 85.70L209.60 68.80M211.23 73.45L209.60 68.80L207.97 73.45" fill="none" stroke="#000" stroke-width="0.9" stroke-linejoin="miter" stroke-miterlimit="10"/>
<path d="M264.50 50.50V62.70M267.35 56.60h8.1M277.35 56.60h8.1M286.80 50.50L289.70 56.60L286.80 62.70" fill="none" stroke="#666" stroke-width="0.85"/>
<path d="M293.10 58.40L306.74 63.59M302.54 63.50L306.74 63.59L303.54 60.86" fill="none" stroke="#000" stroke-width="0.9" stroke-linejoin="miter" stroke-miterlimit="10"/>
<path d="M397.50 48.10V60.30M400.35 54.20h8.1M404.40 50.15v8.1M410.35 54.20h8.1M414.40 50.15v8.1M419.80 48.10L422.70 54.20L419.80 60.30" fill="none" stroke="#666" stroke-width="0.85"/>
<path d="M409.60 63.00L409.60 80.90M407.88 75.95L409.60 80.90L411.32 75.95" fill="none" stroke="#000" stroke-width="0.9" stroke-linejoin="miter" stroke-miterlimit="10"/>
<path d="M497.40 104.60V116.80M500.25 110.70h8.1M504.30 106.65v8.1M510.25 110.70h8.1M519.70 104.60L522.60 110.70L519.70 116.80" fill="none" stroke="#666" stroke-width="0.85"/>
<path d="M509.60 106.90L509.60 86.90M511.52 92.48L509.60 86.90L507.68 92.48" fill="none" stroke="#000" stroke-width="0.9" stroke-linejoin="miter" stroke-miterlimit="10"/>
<path d="M197.10 237.30V249.50M199.95 243.40h8.1M209.95 243.40h8.1M214.00 239.35v8.1M219.40 237.30L222.30 243.40L219.40 249.50" fill="none" stroke="#666" stroke-width="0.85"/>
<path d="M209.60 233.00L209.60 193.20M212.14 200.80L209.60 193.20L207.06 200.80" fill="none" stroke="#000" stroke-width="0.9" stroke-linejoin="miter" stroke-miterlimit="10"/>
<path d="M327.00 194.90V207.10M329.85 201.00h8.1M333.90 196.95v8.1M339.85 201.00h8.1M343.90 196.95v8.1M349.30 194.90L352.20 201.00L349.30 207.10" fill="none" stroke="#666" stroke-width="0.85"/>
<path d="M324.60 201.30L310.09 211.55M313.11 207.32L310.09 211.55L315.09 210.12" fill="none" stroke="#000" stroke-width="0.9" stroke-linejoin="miter" stroke-miterlimit="10"/>
<path d="M397.40 188.90V201.10M400.25 195.00h8.1M410.25 195.00h8.1M419.70 188.90L422.60 195.00L419.70 201.10" fill="none" stroke="#666" stroke-width="0.85"/>
<path d="M409.60 202.10L409.60 229.20M407.06 221.60L409.60 229.20L412.14 221.60" fill="none" stroke="#000" stroke-width="0.9" stroke-linejoin="miter" stroke-miterlimit="10"/>
<path d="M497.40 199.40V211.60M500.25 205.50h8.1M504.30 201.45v8.1M510.25 205.50h8.1M519.70 199.40L522.60 205.50L519.70 211.60" fill="none" stroke="#666" stroke-width="0.85"/>
<path d="M509.60 212.40L509.60 253.40M507.06 245.80L509.60 253.40L512.14 245.80" fill="none" stroke="#000" stroke-width="0.9" stroke-linejoin="miter" stroke-miterlimit="10"/>
<g filter="url(#idf)">
<text x="52.30" y="36.80" font-size="13.00" text-anchor="end" fill="#333" style="font-family:'Liberation Serif',serif;" textLength="6.3" lengthAdjust="spacingAndGlyphs">3</text>
<text x="52.30" y="57.78" font-size="13.00" text-anchor="end" fill="#333" style="font-family:'Liberation Serif',serif;" textLength="6.3" lengthAdjust="spacingAndGlyphs">2</text>
<text x="52.30" y="99.74" font-size="13.00" text-anchor="end" fill="#333" style="font-family:'Liberation Serif',serif;" textLength="6.3" lengthAdjust="spacingAndGlyphs">0</text>
<text x="52.30" y="120.72" font-size="13.00" text-anchor="end" fill="#333" style="font-family:'Liberation Serif',serif;" textLength="15.2" lengthAdjust="spacingAndGlyphs">−1</text>
<text x="52.30" y="141.70" font-size="13.00" text-anchor="end" fill="#333" style="font-family:'Liberation Serif',serif;" textLength="15.2" lengthAdjust="spacingAndGlyphs">−2</text>
<text x="36.30" y="76.76" font-size="13.20" text-anchor="start" fill="#333" style="font-family:'Liberation Serif',serif;font-style:italic" textLength="9.6" lengthAdjust="spacingAndGlyphs">E</text>
<text x="46.00" y="78.06" font-size="8.80" text-anchor="start" fill="#333" style="font-family:'Liberation Serif',serif;" textLength="5.2" lengthAdjust="spacingAndGlyphs">F</text>
<text x="59.60" y="154.10" font-size="13.00" text-anchor="middle" fill="#333" style="font-family:'Liberation Serif',serif;" textLength="30.4" lengthAdjust="spacingAndGlyphs">−0.01</text>
<text x="109.60" y="154.10" font-size="13.00" text-anchor="middle" fill="#333" style="font-family:'Liberation Serif',serif;" textLength="6.3" lengthAdjust="spacingAndGlyphs">0</text>
<text x="159.60" y="154.10" font-size="13.00" text-anchor="middle" fill="#333" style="font-family:'Liberation Serif',serif;" textLength="30.4" lengthAdjust="spacingAndGlyphs">−0.01</text>
<text x="209.60" y="154.10" font-size="13.00" text-anchor="middle" fill="#333" style="font-family:'Liberation Serif',serif;" textLength="6.3" lengthAdjust="spacingAndGlyphs">0</text>
<text x="259.60" y="154.10" font-size="13.00" text-anchor="middle" fill="#333" style="font-family:'Liberation Serif',serif;" textLength="30.4" lengthAdjust="spacingAndGlyphs">−0.01</text>
<text x="309.60" y="154.10" font-size="13.00" text-anchor="middle" fill="#333" style="font-family:'Liberation Serif',serif;" textLength="6.3" lengthAdjust="spacingAndGlyphs">0</text>
<text x="359.60" y="154.10" font-size="13.00" text-anchor="middle" fill="#333" style="font-family:'Liberation Serif',serif;" textLength="30.4" lengthAdjust="spacingAndGlyphs">−0.01</text>
<text x="409.60" y="154.10" font-size="13.00" text-anchor="middle" fill="#333" style="font-family:'Liberation Serif',serif;" textLength="6.3" lengthAdjust="spacingAndGlyphs">0</text>
<text x="459.60" y="154.10" font-size="13.00" text-anchor="middle" fill="#333" style="font-family:'Liberation Serif',serif;" textLength="30.4" lengthAdjust="spacingAndGlyphs">−0.01</text>
<text x="509.60" y="154.10" font-size="13.00" text-anchor="middle" fill="#333" style="font-family:'Liberation Serif',serif;" textLength="6.3" lengthAdjust="spacingAndGlyphs">0</text>
<text x="558.60" y="154.10" font-size="13.00" text-anchor="middle" fill="#333" style="font-family:'Liberation Serif',serif;" textLength="19.0" lengthAdjust="spacingAndGlyphs">0.01</text>
<g transform="translate(23.1,105.05) rotate(-90)"><text x="0.00" y="0.00" font-size="13.20" text-anchor="start" fill="#333" style="font-family:'Liberation Serif',serif;font-style:italic" textLength="9.4" lengthAdjust="spacingAndGlyphs">E</text><line x1="9.9" y1="2.8" x2="16.4" y2="-9.2" stroke="#333" stroke-width="0.8"/><text x="17.50" y="0.00" font-size="13.00" text-anchor="start" fill="#333" style="font-family:'Liberation Serif',serif;font-style:italic" textLength="5.9" lengthAdjust="spacingAndGlyphs">λ</text><text x="23.80" y="2.00" font-size="8.80" text-anchor="start" fill="#333" style="font-family:'Liberation Serif',serif;" textLength="12.8" lengthAdjust="spacingAndGlyphs">SO</text></g>
<text x="52.30" y="183.80" font-size="13.00" text-anchor="end" fill="#333" style="font-family:'Liberation Serif',serif;" textLength="6.3" lengthAdjust="spacingAndGlyphs">3</text>
<text x="52.30" y="204.80" font-size="13.00" text-anchor="end" fill="#333" style="font-family:'Liberation Serif',serif;" textLength="6.3" lengthAdjust="spacingAndGlyphs">2</text>
<text x="52.30" y="246.80" font-size="13.00" text-anchor="end" fill="#333" style="font-family:'Liberation Serif',serif;" textLength="6.3" lengthAdjust="spacingAndGlyphs">0</text>
<text x="52.30" y="267.80" font-size="13.00" text-anchor="end" fill="#333" style="font-family:'Liberation Serif',serif;" textLength="15.2" lengthAdjust="spacingAndGlyphs">−1</text>
<text x="52.30" y="288.80" font-size="13.00" text-anchor="end" fill="#333" style="font-family:'Liberation Serif',serif;" textLength="15.2" lengthAdjust="spacingAndGlyphs">−2</text>
<text x="36.30" y="223.80" font-size="13.20" text-anchor="start" fill="#333" style="font-family:'Liberation Serif',serif;font-style:italic" textLength="9.6" lengthAdjust="spacingAndGlyphs">E</text>
<text x="46.00" y="225.10" font-size="8.80" text-anchor="start" fill="#333" style="font-family:'Liberation Serif',serif;" textLength="5.2" lengthAdjust="spacingAndGlyphs">F</text>
<text x="59.60" y="301.20" font-size="13.00" text-anchor="middle" fill="#333" style="font-family:'Liberation Serif',serif;" textLength="30.4" lengthAdjust="spacingAndGlyphs">−0.01</text>
<text x="109.60" y="301.20" font-size="13.00" text-anchor="middle" fill="#333" style="font-family:'Liberation Serif',serif;" textLength="6.3" lengthAdjust="spacingAndGlyphs">0</text>
<text x="159.60" y="301.20" font-size="13.00" text-anchor="middle" fill="#333" style="font-family:'Liberation Serif',serif;" textLength="30.4" lengthAdjust="spacingAndGlyphs">−0.01</text>
<text x="209.60" y="301.20" font-size="13.00" text-anchor="middle" fill="#333" style="font-family:'Liberation Serif',serif;" textLength="6.3" lengthAdjust="spacingAndGlyphs">0</text>
<text x="259.60" y="301.20" font-size="13.00" text-anchor="middle" fill="#333" style="font-family:'Liberation Serif',serif;" textLength="30.4" lengthAdjust="spacingAndGlyphs">−0.01</text>
<text x="309.60" y="301.20" font-size="13.00" text-anchor="middle" fill="#333" style="font-family:'Liberation Serif',serif;" textLength="6.3" lengthAdjust="spacingAndGlyphs">0</text>
<text x="359.60" y="301.20" font-size="13.00" text-anchor="middle" fill="#333" style="font-family:'Liberation Serif',serif;" textLength="30.4" lengthAdjust="spacingAndGlyphs">−0.01</text>
<text x="409.60" y="301.20" font-size="13.00" text-anchor="middle" fill="#333" style="font-family:'Liberation Serif',serif;" textLength="6.3" lengthAdjust="spacingAndGlyphs">0</text>
<text x="459.60" y="301.20" font-size="13.00" text-anchor="middle" fill="#333" style="font-family:'Liberation Serif',serif;" textLength="30.4" lengthAdjust="spacingAndGlyphs">−0.01</text>
<text x="509.60" y="301.20" font-size="13.00" text-anchor="middle" fill="#333" style="font-family:'Liberation Serif',serif;" textLength="6.3" lengthAdjust="spacingAndGlyphs">0</text>
<text x="558.60" y="301.20" font-size="13.00" text-anchor="middle" fill="#333" style="font-family:'Liberation Serif',serif;" textLength="19.0" lengthAdjust="spacingAndGlyphs">0.01</text>
<g transform="translate(23.1,252.10) rotate(-90)"><text x="0.00" y="0.00" font-size="13.20" text-anchor="start" fill="#333" style="font-family:'Liberation Serif',serif;font-style:italic" textLength="9.4" lengthAdjust="spacingAndGlyphs">E</text><line x1="9.9" y1="2.8" x2="16.4" y2="-9.2" stroke="#333" stroke-width="0.8"/><text x="17.50" y="0.00" font-size="13.00" text-anchor="start" fill="#333" style="font-family:'Liberation Serif',serif;font-style:italic" textLength="5.9" lengthAdjust="spacingAndGlyphs">λ</text><text x="23.80" y="2.00" font-size="8.80" text-anchor="start" fill="#333" style="font-family:'Liberation Serif',serif;" textLength="12.8" lengthAdjust="spacingAndGlyphs">SO</text></g>
<text x="163.70" y="46.90" font-size="13.00" text-anchor="start" fill="#333" style="font-family:'Liberation Serif',serif;" textLength="11.8" lengthAdjust="spacingAndGlyphs">(i)</text>
<text x="262.40" y="46.30" font-size="13.00" text-anchor="start" fill="#333" style="font-family:'Liberation Serif',serif;" textLength="15.0" lengthAdjust="spacingAndGlyphs">(ii)</text>
<text x="375.70" y="46.00" font-size="13.00" text-anchor="start" fill="#333" style="font-family:'Liberation Serif',serif;" textLength="19.2" lengthAdjust="spacingAndGlyphs">(iii)</text>
<text x="465.10" y="46.50" font-size="13.00" text-anchor="start" fill="#333" style="font-family:'Liberation Serif',serif;" textLength="19.9" lengthAdjust="spacingAndGlyphs">(iv)</text>
<text x="164.70" y="193.00" font-size="13.00" text-anchor="start" fill="#333" style="font-family:'Liberation Serif',serif;" textLength="15.5" lengthAdjust="spacingAndGlyphs">(v)</text>
<text x="262.40" y="193.00" font-size="13.00" text-anchor="start" fill="#333" style="font-family:'Liberation Serif',serif;" textLength="18.8" lengthAdjust="spacingAndGlyphs">(vi)</text>
<text x="361.80" y="213.80" font-size="13.00" text-anchor="start" fill="#333" style="font-family:'Liberation Serif',serif;" textLength="22.0" lengthAdjust="spacingAndGlyphs">(vii)</text>
<text x="461.80" y="193.00" font-size="13.00" text-anchor="start" fill="#333" style="font-family:'Liberation Serif',serif;" textLength="25.7" lengthAdjust="spacingAndGlyphs">(viii)</text>
<text x="94.80" y="9.70" font-size="13.00" text-anchor="start" fill="#333" style="font-family:'Liberation Serif',serif;font-style:italic" textLength="6.4" lengthAdjust="spacingAndGlyphs">x</text><text x="105.50" y="9.70" font-size="13.00" text-anchor="start" fill="#333" style="font-family:'Liberation Serif',serif;" textLength="10.7" lengthAdjust="spacingAndGlyphs">&lt;</text><text x="119.30" y="9.70" font-size="13.00" text-anchor="start" fill="#333" style="font-family:'Liberation Serif',serif;" textLength="6.3" lengthAdjust="spacingAndGlyphs">0</text>
<text x="344.80" y="9.70" font-size="13.00" text-anchor="start" fill="#333" style="font-family:'Liberation Serif',serif;font-style:italic" textLength="6.4" lengthAdjust="spacingAndGlyphs">x</text><text x="355.50" y="9.70" font-size="13.00" text-anchor="start" fill="#333" style="font-family:'Liberation Serif',serif;" textLength="10.7" lengthAdjust="spacingAndGlyphs">&gt;</text><text x="369.30" y="9.70" font-size="13.00" text-anchor="start" fill="#333" style="font-family:'Liberation Serif',serif;" textLength="6.3" lengthAdjust="spacingAndGlyphs">0</text>
<text x="321.90" y="26.10" font-size="13.00" text-anchor="start" fill="#333" style="font-family:'Liberation Serif',serif;font-style:italic" textLength="4.6" lengthAdjust="spacingAndGlyphs">ℓ</text><text x="327.30" y="26.10" font-size="13.20" text-anchor="start" fill="#333" style="font-family:'Liberation Serif',serif;font-style:italic" textLength="9.6" lengthAdjust="spacingAndGlyphs">E</text><text x="337.00" y="27.70" font-size="8.80" text-anchor="start" fill="#333" style="font-family:'Liberation Serif',serif;font-style:italic" textLength="4.4" lengthAdjust="spacingAndGlyphs">z</text><text x="346.00" y="26.10" font-size="13.00" text-anchor="start" fill="#333" style="font-family:'Liberation Serif',serif;" textLength="10.8" lengthAdjust="spacingAndGlyphs">=</text><text x="359.80" y="26.10" font-size="13.00" text-anchor="start" fill="#333" style="font-family:'Liberation Serif',serif;" textLength="14.4" lengthAdjust="spacingAndGlyphs">1.5</text><text x="375.10" y="26.10" font-size="13.00" text-anchor="start" fill="#333" style="font-family:'Liberation Serif',serif;font-style:italic" textLength="6.6" lengthAdjust="spacingAndGlyphs">λ</text><text x="382.00" y="28.00" font-size="8.80" text-anchor="start" fill="#333" style="font-family:'Liberation Serif',serif;" textLength="14.6" lengthAdjust="spacingAndGlyphs">SO</text>
<text x="321.90" y="173.90" font-size="13.00" text-anchor="start" fill="#333" style="font-family:'Liberation Serif',serif;font-style:italic" textLength="4.6" lengthAdjust="spacingAndGlyphs">ℓ</text><text x="327.30" y="173.90" font-size="13.20" text-anchor="start" fill="#333" style="font-family:'Liberation Serif',serif;font-style:italic" textLength="9.6" lengthAdjust="spacingAndGlyphs">E</text><text x="337.00" y="175.50" font-size="8.80" text-anchor="start" fill="#333" style="font-family:'Liberation Serif',serif;font-style:italic" textLength="4.4" lengthAdjust="spacingAndGlyphs">z</text><text x="346.00" y="173.90" font-size="13.00" text-anchor="start" fill="#333" style="font-family:'Liberation Serif',serif;" textLength="10.8" lengthAdjust="spacingAndGlyphs">=</text><text x="359.80" y="173.90" font-size="13.00" text-anchor="start" fill="#333" style="font-family:'Liberation Serif',serif;" textLength="14.4" lengthAdjust="spacingAndGlyphs">0.5</text><text x="375.10" y="173.90" font-size="13.00" text-anchor="start" fill="#333" style="font-family:'Liberation Serif',serif;font-style:italic" textLength="6.6" lengthAdjust="spacingAndGlyphs">λ</text><text x="382.00" y="175.80" font-size="8.80" text-anchor="start" fill="#333" style="font-family:'Liberation Serif',serif;" textLength="14.6" lengthAdjust="spacingAndGlyphs">SO</text>
<text x="303.60" y="319.10" font-size="13.00" text-anchor="start" fill="#333" style="font-family:'Liberation Serif',serif;font-style:italic" textLength="6.0" lengthAdjust="spacingAndGlyphs">k</text><text x="309.80" y="319.10" font-size="13.00" text-anchor="start" fill="#333" style="font-family:'Liberation Serif',serif;font-style:italic" textLength="6.4" lengthAdjust="spacingAndGlyphs">a</text>
</g>
</svg>
</body></html>
